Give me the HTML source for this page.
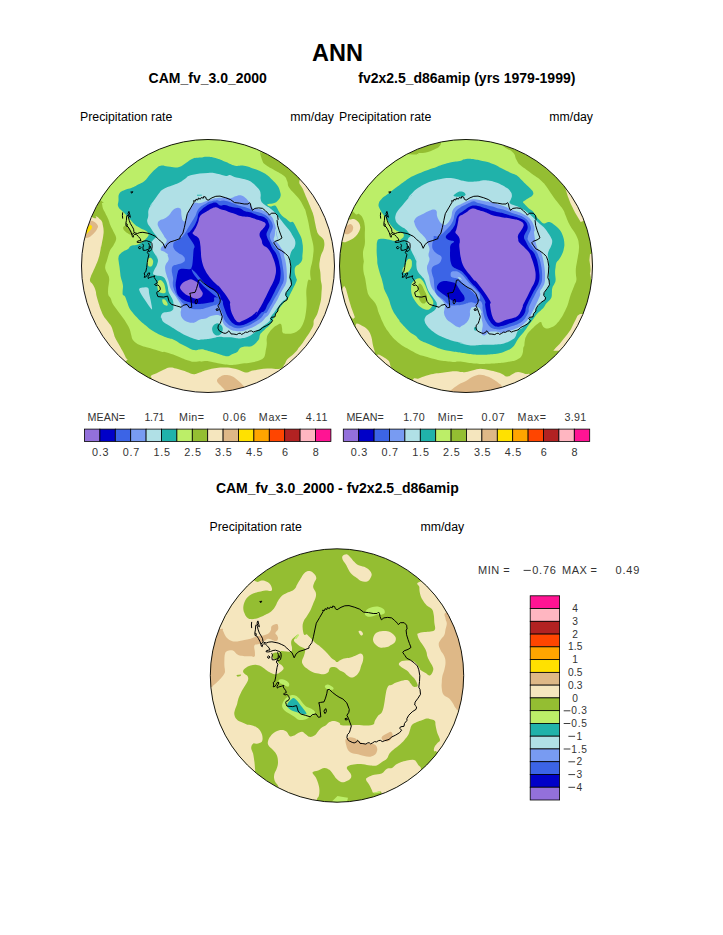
<!DOCTYPE html>
<html><head><meta charset="utf-8"><title>ANN</title>
<style>
html,body{margin:0;padding:0;background:#fff;}
body{width:723px;height:935px;overflow:hidden;font-family:"Liberation Sans",sans-serif;}
svg{display:block;}
text{font-family:"Liberation Sans",sans-serif;}
.h{fill:#000;}
.st{fill:#333;}
</style></head><body>
<svg width="723" height="935" viewBox="0 0 723 935">
<rect width="723" height="935" fill="#fff"/>
<text x="337.5" y="60.5" font-size="23.5" font-weight="bold" text-anchor="middle" class="h">ANN</text>
<text x="207.7" y="83" font-size="14" font-weight="bold" text-anchor="middle" class="h">CAM_fv_3.0_2000</text>
<text x="466.8" y="83" font-size="14" font-weight="bold" text-anchor="middle" class="h">fv2x2.5_d86amip (yrs 1979-1999)</text>
<text x="337.3" y="492.5" font-size="14" font-weight="bold" text-anchor="middle" class="h">CAM_fv_3.0_2000 - fv2x2.5_d86amip</text>
<text x="80" y="121.2" font-size="12.3" class="h">Precipitation rate</text>
<text x="334" y="121.2" font-size="12.3" text-anchor="end" class="h">mm/day</text>
<text x="339" y="121.2" font-size="12.3" class="h">Precipitation rate</text>
<text x="593" y="121.2" font-size="12.3" text-anchor="end" class="h">mm/day</text>
<text x="209.5" y="531.2" font-size="12.3" class="h">Precipitation rate</text>
<text x="464.2" y="531.2" font-size="12.3" text-anchor="end" class="h">mm/day</text>
<clipPath id="c1"><circle cx="208" cy="266" r="126.5"/></clipPath><g clip-path="url(#c1)"><circle cx="208" cy="266" r="127.5" fill="#F5E6BE"/><path d="M217.0,380.2 C217.4,378.5 220.9,376.0 223.3,375.3 C225.7,374.6 229.0,375.2 231.4,376.0 C233.8,376.9 235.7,378.6 237.7,380.2 C239.6,381.8 241.6,383.6 243.1,385.6 C244.6,387.5 249.5,389.6 246.7,391.9 C243.8,394.1 229.6,399.2 226.0,399.1 C222.4,398.9 226.0,393.2 225.1,391.0 C224.2,388.7 221.9,387.4 220.6,385.6 C219.2,383.8 216.5,381.9 217.0,380.2Z" fill="#DEB887" /><path d="M88.7,222.8 C89.9,221.7 90.9,220.9 91.8,220.7 C92.8,220.6 93.7,221.6 94.6,222.1 C95.5,222.7 96.4,223.5 97.0,224.2 C97.6,225.0 98.1,225.7 98.1,226.6 C98.0,227.5 97.2,228.8 96.7,229.7 C96.1,230.7 95.4,231.6 94.6,232.5 C93.8,233.4 92.8,234.5 91.8,235.3 C90.9,236.1 90.0,236.9 89.1,237.3 C88.1,237.8 87.0,238.0 86.3,238.0 C85.6,238.0 85.6,237.9 84.9,237.3 C84.2,236.8 82.1,236.2 82.1,234.6 C82.1,233.0 83.8,229.6 84.9,227.7 C86.0,225.7 87.6,224.0 88.7,222.8Z" fill="#DEB887" /><path d="M88.4,225.6 L90.8,224.9 L92.2,226.6 L91.5,229.0 L89.4,231.1 L87.3,233.2 L86.0,233.9 L84.2,232.5 L86.3,227.7Z" fill="#FFE100" /><path d="M299.7,180.1 C298.1,184.7 301.4,185.1 303.3,189.9 C305.2,194.8 305.8,196.1 307.8,200.7 C309.7,205.4 310.3,206.5 311.6,210.0 C313.0,213.5 312.8,212.9 313.6,215.8 C314.4,218.7 314.3,219.4 315.0,222.6 C315.7,225.7 315.7,226.7 316.5,229.4 C317.3,232.1 317.1,232.2 318.4,234.2 C319.8,236.2 320.9,236.3 322.3,238.1 C323.6,239.9 323.9,239.5 324.2,242.0 C324.6,244.4 324.4,245.8 323.7,248.7 C323.1,251.7 322.2,251.8 321.3,254.5 C320.4,257.2 320.3,257.6 319.9,260.3 C319.4,263.1 319.3,263.4 319.4,266.2 C319.5,268.9 320.0,268.7 320.3,272.0 C320.7,275.2 320.5,276.8 320.8,280.0 C321.2,283.2 321.6,282.9 321.8,285.8 C321.9,288.7 321.7,289.4 321.5,292.6 C321.3,295.7 321.4,296.2 321.0,299.4 C320.5,302.5 320.3,303.0 319.5,306.1 C318.8,309.3 318.6,310.2 317.6,312.9 C316.6,315.6 316.1,316.0 315.2,317.8 C314.3,319.6 314.2,318.9 313.7,320.7 C313.3,322.5 314.0,323.0 313.3,325.5 C312.5,328.0 311.9,328.6 310.3,331.3 C308.8,334.0 308.3,334.4 306.5,337.1 C304.7,339.8 304.4,340.4 302.6,342.9 C300.8,345.4 300.0,346.1 298.7,347.8 C297.5,349.4 298.7,348.3 297.3,350.0 C295.8,351.7 294.9,352.8 292.5,355.0 C290.1,357.2 289.0,357.3 287.1,359.5 C285.2,361.7 286.1,362.4 284.4,364.5 C282.7,366.7 283.9,367.9 279.9,368.8 C275.9,369.8 273.6,368.1 267.3,368.5 C261.0,368.9 258.0,369.7 253.0,370.6 C247.9,371.6 250.0,372.9 245.8,372.4 C241.6,372.0 240.4,370.0 235.0,368.8 C229.5,367.7 228.7,367.4 222.4,367.6 C216.1,367.8 213.3,368.6 208.0,369.7 C202.7,370.9 202.8,371.6 199.5,372.6 C196.2,373.7 196.5,374.3 193.9,374.3 C191.4,374.3 191.0,373.5 188.4,372.6 C185.8,371.7 185.8,371.5 182.9,370.5 C180.0,369.6 179.0,369.2 176.0,368.5 C172.9,367.8 172.6,367.2 169.7,367.5 C166.8,367.8 166.6,368.5 163.5,369.8 C160.4,371.2 159.5,371.9 156.6,373.3 C153.7,374.7 152.3,374.5 151.1,375.8 C149.8,377.1 152.2,376.4 151.3,378.9 C150.4,381.4 154.9,389.2 147.2,386.5 C139.4,383.8 122.9,373.2 118.1,367.1 C113.3,361.1 124.9,362.9 126.7,360.6 C128.5,358.4 126.8,359.8 125.7,357.5 C124.7,355.1 123.9,353.6 122.3,350.5 C120.6,347.5 120.4,347.2 118.8,344.3 C117.2,341.4 116.6,341.0 115.3,338.1 C114.1,335.2 114.2,334.6 113.3,331.9 C112.3,329.1 112.5,328.8 111.2,326.3 C109.9,323.9 109.5,323.9 107.7,321.5 C106.0,319.1 105.2,318.7 103.6,316.0 C102.0,313.2 102.0,312.6 100.8,309.7 C99.7,306.8 99.7,306.6 98.7,303.5 C97.8,300.4 97.5,299.8 96.7,296.6 C95.9,293.4 96.3,292.6 95.3,289.7 C94.3,286.8 93.7,286.2 92.5,284.1 C91.3,282.1 90.5,282.7 90.1,281.0 C89.7,279.2 90.1,279.1 90.8,276.8 C91.5,274.6 92.0,274.0 93.2,271.3 C94.4,268.5 94.8,268.0 96.0,265.1 C97.2,262.2 97.4,261.9 98.4,258.8 C99.4,255.8 99.5,255.1 100.1,251.9 C100.8,248.7 100.9,246.1 101.2,245.0 C101.4,243.9 100.9,247.8 101.2,247.0 C101.4,246.2 101.7,244.1 102.2,241.5 C102.7,238.9 102.9,238.5 103.2,236.0 C103.6,233.4 103.7,232.8 103.6,230.4 C103.5,228.0 103.3,227.7 102.9,225.6 C102.5,223.5 102.7,223.1 101.9,221.4 C101.1,219.8 100.8,219.9 99.4,218.7 C98.1,217.5 97.8,216.7 96.0,216.3 C94.2,215.8 100.2,220.7 91.8,216.9 C83.4,213.2 67.4,227.3 60.0,200.0 C52.6,172.7 -10.0,123.3 60.0,100.0 C130.0,76.7 295.8,88.3 360.0,100.0 C424.2,111.7 346.7,133.7 335.0,150.0 C323.3,166.3 318.2,163.0 310.0,170.0 C301.8,177.0 301.3,175.4 299.7,180.1Z" fill="#94BE32" /><path d="M260.1,151.3 C260.1,153.9 260.7,156.2 261.9,159.4 C263.2,162.5 262.6,162.3 265.5,164.8 C268.5,167.3 270.3,167.6 274.5,170.2 C278.7,172.7 280.6,173.0 283.5,175.6 C286.5,178.1 285.9,178.2 287.1,181.0 C288.4,183.7 287.2,184.3 288.9,187.2 C290.6,190.2 291.8,190.6 294.3,193.5 C296.8,196.5 297.4,196.5 299.7,199.8 C302.0,203.2 302.9,205.5 304.2,207.9 C305.5,210.3 304.7,208.2 305.3,210.0 C305.9,211.8 306.1,213.1 306.8,215.8 C307.5,218.5 307.6,218.5 308.2,221.6 C308.9,224.8 309.0,226.0 309.7,229.4 C310.4,232.8 310.5,233.2 311.1,236.1 C311.8,239.1 312.0,239.0 312.6,242.0 C313.2,244.9 313.5,245.6 313.6,248.7 C313.7,251.9 313.4,252.3 313.1,255.5 C312.7,258.7 312.7,259.3 312.1,262.3 C311.6,265.2 311.1,265.4 310.7,268.1 C310.2,270.8 310.2,271.1 310.2,273.9 C310.2,276.7 311.1,278.6 310.7,280.0 C310.3,281.4 309.3,278.6 308.4,280.0 C307.5,281.4 307.5,283.1 307.0,285.8 C306.5,288.5 306.4,288.9 306.3,291.6 C306.2,294.3 306.4,294.7 306.5,297.4 C306.6,300.1 306.7,300.5 306.7,303.2 C306.6,305.9 306.6,306.3 306.3,309.0 C306.0,311.8 306.0,312.1 305.5,314.9 C305.0,317.6 305.0,318.0 304.1,320.7 C303.1,323.4 303.1,324.1 301.6,326.5 C300.2,328.8 299.8,329.2 297.8,330.8 C295.7,332.4 295.4,332.6 292.9,333.3 C290.4,333.9 289.5,333.8 287.1,333.7 C284.7,333.6 283.9,334.0 282.8,332.8 C281.6,331.5 282.5,330.4 282.1,328.4 C281.6,326.4 281.9,324.8 280.8,324.1 C279.7,323.3 279.3,324.0 277.4,325.0 C275.5,326.0 274.6,326.5 272.6,328.4 C270.6,330.3 270.1,331.0 268.7,333.3 C267.4,335.5 267.2,335.6 266.8,338.1 C266.3,340.6 267.0,341.1 266.8,343.9 C266.6,346.7 266.3,347.4 265.8,350.0 C265.4,352.6 265.5,353.2 264.9,355.2 C264.2,357.2 264.3,357.3 262.9,358.6 C261.6,359.8 261.1,359.7 259.1,360.5 C257.0,361.3 256.7,361.4 254.2,362.0 C251.7,362.5 251.1,362.6 248.4,362.9 C245.7,363.3 245.3,363.1 242.6,363.4 C239.9,363.8 239.5,364.0 236.8,364.4 C234.1,364.7 233.7,364.9 231.0,364.9 C228.3,364.9 227.9,364.7 225.2,364.4 C222.5,364.0 221.8,363.9 219.4,363.4 C216.9,363.0 216.8,362.9 214.5,362.4 C212.3,362.0 211.9,361.8 209.7,361.5 C207.4,361.1 207.1,360.9 204.8,361.0 C202.6,361.1 200.9,362.0 200.0,362.0 C199.1,361.9 202.3,360.9 200.9,360.9 C199.4,360.8 196.8,361.9 193.9,361.8 C191.0,361.8 191.3,361.5 188.4,360.6 C185.5,359.7 185.0,359.5 181.5,358.1 C177.9,356.7 177.1,356.1 173.2,354.6 C169.3,353.2 167.4,352.5 164.9,351.9 C162.4,351.2 164.6,352.4 162.4,351.9 C160.2,351.5 158.7,350.8 155.5,349.8 C152.2,348.9 151.8,348.7 148.5,347.8 C145.3,346.8 144.5,346.8 141.6,345.7 C138.7,344.6 138.2,344.4 136.1,342.9 C134.0,341.5 133.8,341.2 132.6,339.5 C131.5,337.7 131.9,337.6 131.3,335.3 C130.6,333.1 130.8,332.4 129.9,329.8 C128.9,327.2 128.6,326.8 127.1,324.3 C125.6,321.7 125.4,321.3 123.6,318.7 C121.9,316.1 121.3,315.6 119.5,313.2 C117.7,310.8 117.6,310.6 116.0,308.4 C114.4,306.1 113.9,305.9 112.6,303.5 C111.3,301.1 111.5,300.0 110.5,298.0 C109.5,296.0 109.0,297.0 108.4,295.0 C107.9,293.0 108.0,291.9 108.1,289.3 C108.2,286.6 108.5,286.3 108.8,283.7 C109.0,281.1 109.4,280.5 109.1,278.2 C108.9,275.9 108.5,276.0 107.7,274.0 C106.9,272.1 106.2,271.8 105.7,269.9 C105.1,268.0 105.0,268.0 105.3,265.7 C105.6,263.5 106.2,263.0 107.0,260.2 C107.9,257.5 107.9,256.6 108.8,254.0 C109.7,251.4 109.6,251.2 110.8,249.1 C112.1,247.1 113.6,245.3 114.0,245.0 C114.3,244.7 112.2,247.9 112.2,247.7 C112.2,247.5 113.2,245.9 114.0,244.3 C114.8,242.6 115.2,242.4 115.7,240.8 C116.2,239.2 116.3,239.0 116.0,237.3 C115.8,235.7 115.5,235.7 114.7,233.9 C113.8,232.1 113.5,231.7 112.6,229.7 C111.6,227.8 111.4,227.7 110.5,225.6 C109.6,223.5 109.6,222.8 108.8,220.7 C108.0,218.6 107.9,218.5 107.0,216.6 C106.2,214.7 105.9,214.4 105.0,212.4 C104.0,210.5 103.6,210.4 102.9,208.3 C102.2,206.2 102.5,205.4 101.9,203.5 C101.2,201.5 107.6,205.5 100.1,200.0 C92.7,194.5 77.0,203.3 70.0,180.0 C63.0,156.7 25.2,118.7 70.0,100.0 C114.8,81.3 217.2,88.8 262.0,100.0 C306.8,111.2 262.4,136.0 262.0,148.0 C261.6,160.0 260.2,148.6 260.1,151.3Z" fill="#BCEE68" /><path d="M123.1,227.4 C123.2,226.6 124.4,225.8 125.5,226.0 C126.5,226.1 128.2,227.4 129.4,228.4 C130.5,229.5 131.9,231.2 132.3,232.3 C132.7,233.3 132.4,234.5 131.8,234.7 C131.1,234.9 129.6,234.4 128.4,233.7 C127.2,233.1 125.4,231.9 124.5,230.8 C123.6,229.8 122.9,228.2 123.1,227.4Z" fill="#94BE32" /><path d="M208.0,156.7 C211.9,156.9 212.8,157.2 217.0,158.5 C221.2,159.7 221.8,160.4 226.0,162.1 C230.2,163.8 230.8,164.8 235.0,165.7 C239.2,166.5 239.8,165.0 244.0,165.7 C248.2,166.3 248.8,166.9 253.0,168.4 C257.1,169.8 258.7,170.4 261.9,172.0 C265.2,173.5 264.8,173.4 267.0,175.0 C269.1,176.6 269.4,177.1 271.3,178.9 C273.2,180.7 273.6,180.9 275.2,182.7 C276.8,184.6 277.0,184.6 278.1,186.6 C279.2,188.7 279.5,189.2 280.0,191.5 C280.6,193.7 281.0,194.3 280.5,196.3 C280.1,198.3 279.6,198.6 278.1,200.2 C276.6,201.8 276.5,202.2 274.2,203.1 C272.0,204.0 270.0,203.6 268.4,204.0 C266.8,204.5 267.0,204.4 267.4,205.0 C267.9,205.6 268.7,206.4 270.3,206.5 C272.0,206.6 273.1,205.2 274.7,205.5 C276.3,205.8 276.1,206.4 277.1,207.9 C278.1,209.4 277.9,210.0 279.1,211.8 C280.2,213.6 280.4,214.1 282.0,215.7 C283.5,217.2 284.0,217.1 285.8,218.6 C287.7,220.0 288.4,221.1 290.0,222.0 C291.6,222.8 291.5,221.3 292.8,222.1 C294.0,222.9 293.9,223.3 295.2,225.5 C296.4,227.6 296.7,228.6 298.1,231.3 C299.4,234.0 300.0,234.4 301.0,237.1 C302.0,239.8 302.0,240.2 302.4,242.9 C302.9,245.6 302.9,245.8 302.9,248.7 C302.9,251.7 302.7,252.8 302.4,255.5 C302.2,258.2 302.7,258.3 302.0,260.3 C301.2,262.4 300.5,262.8 299.0,264.2 C297.6,265.7 296.7,264.8 295.7,266.6 C294.6,268.4 294.6,269.4 294.7,272.0 C294.8,274.6 295.7,275.9 296.1,277.8 C296.6,279.6 297.0,278.6 296.8,280.0 C296.6,281.4 296.1,282.1 295.3,283.9 C294.5,285.7 294.4,285.7 293.4,287.7 C292.4,289.8 292.0,290.6 291.0,292.6 C290.0,294.6 289.9,294.9 289.0,296.5 C288.1,298.0 288.2,298.0 287.1,299.4 C286.0,300.7 285.6,300.8 284.2,302.3 C282.8,303.7 282.5,304.1 281.3,305.7 C280.1,307.2 280.0,307.4 278.9,309.0 C277.8,310.7 277.5,311.2 276.5,312.9 C275.4,314.6 275.3,314.8 274.5,316.3 C273.7,317.8 273.6,318.0 273.1,319.2 C272.5,320.5 273.0,320.2 272.1,321.6 C271.2,323.1 270.9,323.7 269.2,325.5 C267.5,327.3 266.5,327.8 264.8,329.4 C263.1,331.0 263.1,331.0 261.9,332.3 C260.8,333.5 260.7,333.2 260.0,334.7 C259.3,336.2 259.7,337.1 259.1,338.7 C258.4,340.3 258.3,340.3 257.1,341.6 C256.0,343.0 255.8,343.4 254.2,344.5 C252.6,345.7 252.2,346.0 250.3,346.5 C248.5,346.9 248.3,346.4 246.5,346.5 C244.7,346.6 244.2,346.5 242.6,347.0 C241.0,347.4 241.1,347.2 239.7,348.4 C238.3,349.7 238.6,350.9 236.8,352.3 C235.0,353.6 234.0,353.3 232.0,354.2 C229.9,355.1 229.9,355.8 228.1,356.2 C226.3,356.5 226.2,356.1 224.2,355.7 C222.2,355.2 221.6,354.9 219.4,354.2 C217.1,353.5 216.8,353.4 214.5,352.8 C212.3,352.1 211.9,352.0 209.7,351.3 C207.4,350.6 207.1,350.3 204.8,349.9 C202.6,349.4 202.5,349.3 200.0,349.4 C197.5,349.4 196.6,350.5 193.9,350.1 C191.2,349.7 191.3,349.1 188.4,347.7 C185.5,346.4 184.7,346.0 181.5,344.3 C178.3,342.5 178.0,341.6 174.8,340.2 C171.6,338.7 171.1,339.2 167.9,338.1 C164.7,337.0 163.9,336.6 161.0,335.3 C158.1,334.0 158.0,334.0 155.5,332.6 C152.9,331.1 152.2,330.7 149.9,329.1 C147.7,327.5 147.9,327.4 145.8,325.6 C143.7,323.9 143.0,323.4 140.9,321.5 C138.8,319.6 138.7,319.4 136.8,317.3 C134.8,315.2 134.4,314.8 132.6,312.5 C130.9,310.2 130.5,310.1 129.2,307.7 C127.9,305.2 128.1,304.7 127.1,302.1 C126.1,299.5 126.0,298.3 125.0,296.6 C124.1,294.9 123.5,296.1 123.0,295.0 C122.4,293.9 122.6,294.0 122.6,292.0 C122.6,290.0 123.0,288.8 123.0,286.5 C122.9,284.2 122.7,284.4 122.3,282.3 C121.8,280.2 121.4,279.8 120.9,277.5 C120.4,275.2 120.5,275.1 120.2,272.7 C119.9,270.2 119.8,269.6 119.5,267.1 C119.2,264.7 119.0,264.5 118.8,262.3 C118.6,260.0 118.1,259.4 118.5,257.4 C118.8,255.5 119.0,255.4 120.2,254.0 C121.4,252.5 121.8,252.4 123.6,251.2 C125.5,250.1 126.2,250.4 128.0,249.1 C129.8,247.9 128.9,246.9 131.3,245.8 C133.7,244.7 135.4,245.4 138.1,244.4 C140.8,243.4 140.7,243.3 142.9,241.5 C145.2,239.7 146.5,238.4 147.8,236.6 C149.0,234.8 148.7,235.1 148.2,233.7 C147.8,232.4 147.7,232.2 145.8,230.8 C143.9,229.5 142.7,229.5 140.0,227.9 C137.3,226.3 136.9,226.5 134.2,224.0 C131.5,221.6 131.1,220.2 128.4,217.3 C125.7,214.3 125.0,213.9 122.6,211.5 C120.2,209.0 119.2,209.1 118.2,206.6 C117.3,204.1 118.2,203.8 118.5,200.7 C118.7,197.7 117.9,196.1 119.4,193.5 C120.8,191.0 121.8,191.3 124.7,189.9 C127.7,188.6 128.8,189.0 131.9,187.8 C135.1,186.5 135.3,186.1 138.2,184.5 C141.2,183.0 141.8,183.3 144.5,181.0 C147.3,178.6 147.4,177.4 149.9,174.7 C152.4,171.9 152.8,171.4 155.3,169.3 C157.8,167.2 157.8,166.3 160.7,165.7 C163.6,165.0 164.5,166.1 167.9,166.6 C171.3,167.0 172.2,167.5 175.1,167.5 C178.0,167.5 178.0,167.6 180.5,166.6 C183.0,165.5 182.9,164.9 185.9,163.0 C188.8,161.1 189.7,159.7 193.1,158.5 C196.4,157.2 196.8,158.0 200.3,157.6 C203.8,157.2 204.1,156.5 208.0,156.7Z" fill="#20B2AA" /><path d="M150.0,206.0 C149.2,206.3 152.6,202.4 154.8,199.2 C157.1,196.0 157.4,194.9 159.7,192.4 C161.9,189.9 161.8,190.1 164.5,188.6 C167.2,187.0 167.9,187.0 171.3,185.7 C174.7,184.3 175.9,184.3 179.0,182.7 C182.2,181.2 181.9,180.7 184.9,178.9 C187.8,177.1 186.2,176.4 191.6,175.0 C197.0,173.6 202.1,173.1 208.0,172.9 C213.9,172.6 212.8,173.0 217.0,173.8 C221.2,174.5 223.0,175.6 226.0,175.9 C228.9,176.2 227.7,174.8 229.7,175.0 C231.7,175.2 231.8,176.1 234.5,176.9 C237.2,177.7 238.1,177.6 241.3,178.4 C244.5,179.2 245.4,179.2 248.1,180.3 C250.8,181.5 250.9,181.6 252.9,183.2 C255.0,184.8 255.2,185.4 256.8,187.1 C258.4,188.8 258.8,188.8 259.7,190.5 C260.6,192.2 260.4,192.3 260.7,194.4 C260.9,196.4 260.2,197.2 260.7,199.2 C261.1,201.2 261.2,201.5 262.6,203.1 C264.0,204.7 264.7,204.7 266.5,206.0 C268.3,207.2 268.3,206.8 270.3,208.4 C272.4,210.0 273.2,210.6 275.2,212.8 C277.2,214.9 277.3,215.3 279.1,217.6 C280.9,219.9 281.1,220.2 282.9,222.4 C284.7,224.7 285.2,225.2 286.8,227.3 C288.5,229.3 288.6,229.1 290.0,231.2 C291.4,233.2 291.5,233.8 292.8,236.1 C294.0,238.4 294.7,238.5 295.2,241.0 C295.6,243.5 295.5,244.5 294.7,246.8 C293.9,249.1 292.8,248.9 291.8,250.7 C290.8,252.5 290.8,252.7 290.3,254.5 C289.9,256.3 289.8,256.2 289.8,258.4 C289.9,260.7 290.4,261.5 290.6,264.2 C290.8,266.9 290.8,267.3 290.6,270.0 C290.4,272.7 290.0,273.5 289.8,275.8 C289.7,278.2 289.5,278.1 289.8,280.0 C290.2,281.9 291.4,281.8 291.2,283.9 C291.0,285.9 290.2,286.7 289.0,288.7 C287.9,290.7 286.9,291.0 286.1,292.6 C285.4,294.2 285.7,294.1 285.7,295.5 C285.7,296.8 286.7,297.2 286.1,298.4 C285.6,299.6 284.6,299.5 283.2,300.8 C281.9,302.2 281.7,302.5 280.3,304.2 C279.0,305.9 278.8,306.3 277.4,308.1 C276.1,309.9 275.9,310.1 274.5,312.0 C273.2,313.8 272.6,314.4 271.6,315.8 C270.6,317.3 270.6,317.1 270.2,318.2 C269.7,319.4 270.5,319.4 269.7,320.7 C268.9,321.9 268.4,322.2 266.8,323.6 C265.2,324.9 264.5,325.3 262.9,326.5 C261.3,327.6 261.8,327.1 260.0,328.4 C258.2,329.7 257.2,330.4 255.2,332.0 C253.2,333.5 253.3,333.6 251.3,334.9 C249.3,336.1 248.7,336.5 246.5,337.3 C244.2,338.1 243.9,338.0 241.6,338.2 C239.4,338.5 239.3,338.5 236.8,338.2 C234.3,338.0 233.7,337.5 231.0,337.3 C228.3,337.0 227.9,337.4 225.2,337.3 C222.5,337.2 221.8,336.7 219.4,336.8 C216.9,336.9 216.8,337.3 214.5,337.8 C212.3,338.2 211.9,338.4 209.7,338.7 C207.4,339.1 207.1,339.0 204.8,339.2 C202.6,339.4 201.3,339.5 200.0,339.7 C198.7,339.9 200.9,340.3 199.5,340.1 C198.1,339.9 196.8,339.7 193.9,338.7 C191.0,337.8 189.9,337.3 187.0,336.0 C184.1,334.7 184.4,334.8 181.5,333.2 C178.6,331.6 177.5,330.8 174.6,329.0 C171.7,327.3 171.6,327.2 169.0,325.6 C166.5,324.0 165.3,323.9 163.5,322.1 C161.7,320.4 162.1,319.2 161.4,318.0 C160.8,316.8 160.5,318.1 160.8,317.0 C161.1,315.8 161.2,314.2 162.8,313.1 C164.3,312.0 165.3,312.8 167.6,312.1 C169.9,311.4 171.1,311.5 172.4,310.2 C173.8,308.8 173.3,308.6 173.4,306.3 C173.5,304.1 173.6,303.0 172.9,300.5 C172.2,298.0 171.5,297.7 170.5,295.7 C169.5,293.6 169.2,294.1 168.6,291.8 C167.9,289.5 168.3,288.7 167.6,286.0 C166.9,283.3 166.8,282.3 165.7,280.2 C164.5,278.0 164.6,277.8 162.8,276.8 C161.0,275.8 160.0,276.3 157.9,275.8 C155.9,275.4 155.2,275.4 154.0,274.8 C152.9,274.3 153.0,274.6 153.1,273.4 C153.2,272.2 153.6,271.6 154.5,269.5 C155.4,267.5 156.2,266.9 157.0,264.7 C157.7,262.4 158.1,262.1 157.9,259.8 C157.7,257.6 156.1,255.2 156.0,255.0 C155.9,254.8 157.6,258.9 157.4,258.9 C157.3,258.9 156.5,256.8 155.5,255.0 C154.5,253.2 154.0,253.0 153.1,251.2 C152.2,249.3 152.1,249.1 151.6,247.3 C151.2,245.5 150.7,245.2 151.1,243.4 C151.6,241.6 152.3,241.1 153.6,239.5 C154.8,238.0 156.2,238.0 156.5,236.6 C156.7,235.3 155.9,235.8 154.5,233.7 C153.2,231.7 152.4,230.6 150.7,227.9 C149.0,225.2 147.8,224.8 147.3,222.1 C146.7,219.4 147.9,219.2 148.2,216.3 C148.6,213.4 147.7,212.5 148.7,209.5 C149.7,206.6 150.3,206.4 152.6,203.7 C154.9,201.0 159.0,197.4 158.4,197.9 C157.8,198.4 150.8,205.7 150.0,206.0Z" fill="#B0E0E6" /><path d="M139.5,288.4 C140.2,287.8 142.4,287.5 143.9,287.4 C145.3,287.4 147.3,286.9 148.2,287.9 C149.1,289.0 148.8,291.6 149.2,293.7 C149.6,295.8 150.2,297.9 150.7,300.5 C151.1,303.1 152.4,308.3 152.1,309.2 C151.9,310.2 150.3,307.8 149.2,306.3 C148.1,304.9 146.6,302.4 145.3,300.5 C144.0,298.6 142.4,296.3 141.5,294.7 C140.5,293.1 139.8,291.9 139.5,290.8 C139.2,289.8 138.8,289.0 139.5,288.4Z" fill="#B0E0E6" /><path d="M217.4,323.2 C218.7,323.2 220.4,324.2 221.3,325.2 C222.2,326.1 222.8,327.7 222.8,329.0 C222.8,330.4 222.2,332.3 221.3,333.4 C220.4,334.5 218.7,335.6 217.4,335.6 C216.1,335.6 214.4,334.5 213.6,333.4 C212.7,332.3 212.1,330.4 212.1,329.0 C212.1,327.7 212.7,326.1 213.6,325.2 C214.4,324.2 216.1,323.2 217.4,323.2Z" fill="#20B2AA" /><path d="M148.2,258.9 C148.9,258.1 150.3,257.6 151.1,257.9 C151.9,258.2 152.8,259.7 153.1,260.8 C153.3,261.9 153.0,263.7 152.6,264.7 C152.2,265.7 151.4,266.5 150.7,266.6 C149.9,266.8 148.8,266.4 148.2,265.7 C147.6,264.9 147.1,263.4 147.1,262.3 C147.1,261.1 147.6,259.6 148.2,258.9Z" fill="#BCEE68" /><path d="M157.9,281.6 C158.5,280.5 159.9,279.9 160.8,280.2 C161.8,280.4 163.0,281.8 163.7,283.1 C164.5,284.4 164.9,286.4 165.2,287.9 C165.5,289.5 166.1,291.4 165.7,292.3 C165.3,293.2 163.9,293.3 162.8,293.2 C161.6,293.2 159.8,292.8 158.9,291.8 C158.0,290.7 157.6,288.6 157.4,287.0 C157.3,285.3 157.4,282.8 157.9,281.6Z" fill="#BCEE68" /><path d="M162.3,299.5 C162.6,299.0 163.9,299.1 164.7,299.5 C165.5,300.0 166.6,301.5 167.1,302.4 C167.6,303.4 167.9,304.9 167.6,305.3 C167.3,305.8 166.0,305.7 165.2,305.3 C164.4,304.9 163.2,303.9 162.8,302.9 C162.3,302.0 162.0,300.1 162.3,299.5Z" fill="#BCEE68" /><path d="M197.0,194.8 L201.8,194.7 L202.0,195.6 L197.2,195.8Z" fill="#20B2AA" /><path d="M157.7,223.4 C158.0,221.8 158.1,221.6 159.7,220.5 C161.3,219.4 162.3,219.9 164.5,218.6 C166.8,217.2 167.6,216.5 169.4,214.7 C171.2,212.9 170.9,212.3 172.3,210.8 C173.6,209.4 173.6,209.1 175.2,208.4 C176.8,207.7 177.7,207.6 179.0,207.9 C180.4,208.3 180.4,208.0 181.0,209.9 C181.5,211.7 181.0,213.2 181.5,215.7 C181.9,218.1 182.0,219.4 182.9,220.5 C183.8,221.6 184.3,222.1 185.3,220.5 C186.4,218.9 186.0,216.7 187.3,213.7 C188.5,210.8 189.0,210.4 190.7,207.9 C192.4,205.4 192.3,204.2 194.5,203.1 C196.8,201.9 197.6,203.6 200.3,203.1 C203.1,202.6 203.4,201.9 206.2,200.9 C208.9,200.0 209.3,199.9 212.0,199.2 C214.7,198.5 214.5,198.4 217.8,198.0 C221.0,197.6 222.8,197.4 225.8,197.5 C228.8,197.5 228.4,198.5 230.7,198.2 C232.9,198.0 233.1,197.0 235.5,196.3 C237.9,195.6 238.6,195.0 240.8,195.3 C243.1,195.7 243.5,196.5 245.2,197.8 C246.9,199.0 246.9,199.4 248.1,200.7 C249.2,201.9 249.1,201.6 250.0,203.1 C250.9,204.5 251.0,205.6 252.0,207.0 C252.9,208.3 252.3,208.4 253.9,208.9 C255.5,209.3 256.5,208.4 258.7,208.9 C261.0,209.3 261.3,209.7 263.6,210.8 C265.8,212.0 266.4,212.1 268.4,213.7 C270.4,215.3 270.9,215.6 272.3,217.6 C273.6,219.6 273.4,220.2 274.2,222.4 C275.0,224.7 275.2,224.8 275.7,227.3 C276.1,229.8 275.8,230.6 276.2,233.1 C276.5,235.6 276.7,235.9 277.1,237.9 C277.6,240.0 278.4,243.8 278.1,241.8 C277.8,239.8 276.6,230.9 275.8,229.4 C275.1,227.8 275.3,232.7 274.8,235.2 C274.4,237.7 273.2,238.2 273.9,240.0 C274.6,241.8 275.9,240.9 277.7,242.9 C279.6,245.0 280.0,246.5 281.6,248.7 C283.2,251.0 284.0,251.2 284.5,252.6 C285.1,254.0 283.7,252.8 283.9,254.7 C284.1,256.5 284.8,257.8 285.4,260.5 C285.9,263.2 286.0,263.4 286.3,266.3 C286.7,269.2 286.7,270.1 286.8,273.1 C286.9,276.0 287.0,276.4 286.8,278.9 C286.6,281.4 286.5,281.7 285.8,283.7 C285.2,285.8 284.9,285.8 283.9,287.6 C282.9,289.4 282.5,289.7 281.5,291.5 C280.5,293.3 280.6,293.3 279.5,295.3 C278.5,297.4 278.4,297.9 277.1,300.2 C275.9,302.4 275.6,302.8 274.2,305.0 C272.9,307.3 272.7,307.5 271.3,309.9 C270.0,312.2 269.7,313.3 268.4,315.0 C267.1,316.7 267.1,316.0 265.8,317.3 C264.5,318.6 264.3,319.3 262.9,320.7 C261.5,322.0 261.1,322.3 260.0,323.1 C258.9,323.9 259.7,323.3 258.1,324.2 C256.5,325.1 255.5,326.0 253.3,327.1 C251.0,328.2 250.7,328.2 248.4,329.0 C246.2,329.9 245.8,330.3 243.6,330.8 C241.3,331.3 241.2,331.2 238.7,331.2 C236.2,331.1 235.4,331.2 232.9,330.5 C230.4,329.8 230.0,329.3 228.1,328.1 C226.2,326.8 225.9,326.6 224.7,325.2 C223.4,323.7 223.4,323.5 222.8,321.8 C222.1,320.1 222.6,319.4 221.8,317.9 C221.0,316.4 221.1,316.1 219.4,315.5 C217.7,314.9 216.8,315.1 214.5,315.3 C212.3,315.5 211.7,315.7 209.7,316.5 C207.6,317.2 208.1,317.7 205.8,318.4 C203.6,319.1 202.5,318.5 200.0,319.4 C197.5,320.3 196.7,321.5 195.0,322.3 C193.3,323.1 194.6,322.9 192.8,322.8 C190.9,322.7 189.4,322.9 187.0,321.8 C184.5,320.7 183.6,320.0 182.1,317.9 C180.7,315.9 180.9,315.1 180.7,313.1 C180.4,311.1 181.2,311.3 181.2,309.2 C181.2,307.2 181.3,306.4 180.7,304.4 C180.0,302.3 179.5,302.5 178.3,300.5 C177.0,298.5 176.7,297.7 175.3,295.7 C174.0,293.6 173.7,293.8 172.4,291.8 C171.2,289.8 170.9,289.4 170.0,287.0 C169.1,284.5 169.4,283.9 168.6,281.1 C167.8,278.4 167.4,278.0 166.6,275.3 C165.8,272.6 165.4,272.0 165.2,269.5 C165.0,267.0 164.9,266.9 165.7,264.7 C166.5,262.4 168.1,262.1 168.6,259.8 C169.0,257.6 167.6,256.2 167.6,255.0 C167.6,253.8 169.1,255.4 168.4,254.7 C167.7,253.9 166.3,253.1 164.5,251.8 C162.7,250.4 160.2,251.2 160.7,248.9 C161.1,246.5 165.6,244.6 166.5,241.8 C167.4,239.0 165.7,239.2 164.5,237.0 C163.4,234.7 163.0,234.4 161.6,232.1 C160.3,229.9 159.6,229.3 158.7,227.3 C157.8,225.2 157.5,225.0 157.7,223.4Z" fill="#789BF2" /><path d="M187.3,229.2 C188.2,227.6 188.5,227.4 189.7,225.3 C190.9,223.3 191.2,222.8 192.6,220.5 C194.0,218.2 194.4,217.9 195.5,215.7 C196.6,213.4 196.3,212.9 197.4,210.8 C198.6,208.8 198.5,208.5 200.3,207.0 C202.2,205.4 202.9,205.3 205.2,204.0 C207.4,202.8 207.5,202.5 210.0,201.6 C212.5,200.8 213.5,200.5 215.8,200.4 C218.2,200.2 217.9,200.9 220.0,200.9 C222.1,201.0 222.6,200.4 224.8,200.7 C227.1,200.9 227.4,201.3 229.7,202.1 C231.9,202.9 232.0,203.1 234.5,204.0 C237.0,204.9 237.6,205.2 240.3,206.0 C243.0,206.8 243.9,206.8 246.1,207.4 C248.4,208.1 248.2,208.0 250.0,208.9 C251.8,209.8 251.9,210.5 253.9,211.3 C255.9,212.1 256.5,211.6 258.7,212.3 C261.0,213.0 261.5,213.2 263.6,214.2 C265.6,215.2 265.9,215.3 267.4,216.6 C269.0,218.0 269.2,218.4 270.3,220.0 C271.5,221.6 271.7,221.7 272.3,223.4 C272.8,225.1 273.0,225.5 272.8,227.3 C272.5,229.1 272.0,229.3 271.3,231.2 C270.6,233.0 270.1,233.2 269.9,235.0 C269.6,236.8 269.8,237.1 270.3,238.9 C270.9,240.7 271.0,240.7 272.3,242.8 C273.5,244.9 274.1,245.8 275.7,247.9 C277.3,250.0 277.8,249.5 279.1,251.8 C280.3,254.0 280.2,254.6 281.0,257.6 C281.8,260.5 281.9,261.2 282.4,264.4 C283.0,267.5 283.1,268.2 283.4,271.1 C283.8,274.1 283.9,274.5 283.9,277.0 C283.9,279.4 284.0,279.8 283.4,281.8 C282.9,283.8 282.5,283.6 281.5,285.7 C280.5,287.7 280.1,288.5 279.1,290.5 C278.0,292.5 278.1,292.6 277.1,294.4 C276.1,296.2 275.8,296.2 274.7,298.3 C273.6,300.3 273.5,300.8 272.3,303.1 C271.0,305.4 270.7,305.7 269.4,307.9 C268.0,310.2 267.6,311.5 266.5,312.8 C265.3,314.0 265.4,312.5 264.4,313.4 C263.3,314.3 263.0,315.5 261.9,316.8 C260.9,318.0 261.6,317.6 260.0,318.7 C258.4,319.9 257.4,320.4 255.2,321.8 C252.9,323.2 252.6,323.6 250.3,324.7 C248.1,325.8 247.8,325.8 245.5,326.6 C243.2,327.4 242.9,327.7 240.7,328.1 C238.4,328.4 238.1,328.5 235.8,328.1 C233.6,327.6 233.0,327.3 231.0,326.1 C228.9,325.0 228.7,324.8 227.1,323.2 C225.5,321.7 225.2,321.4 224.2,319.4 C223.2,317.3 223.5,316.8 222.8,314.5 C222.0,312.3 221.8,311.9 220.8,309.7 C219.8,307.4 219.9,305.9 218.4,304.8 C216.9,303.8 216.6,304.9 214.5,305.3 C212.5,305.8 211.9,306.1 209.7,306.8 C207.4,307.5 207.1,307.7 204.8,308.2 C202.6,308.8 202.9,309.0 200.0,309.2 C197.1,309.4 195.2,309.4 192.6,308.9 C190.0,308.4 190.8,308.1 188.7,307.0 C186.7,305.8 185.7,305.4 183.9,304.1 C182.1,302.7 182.3,302.7 181.0,301.2 C179.6,299.6 179.3,299.1 178.1,297.3 C176.8,295.5 176.7,295.4 175.7,293.4 C174.6,291.4 174.4,290.8 173.7,288.6 C173.0,286.3 172.9,286.0 172.8,283.7 C172.6,281.5 173.3,281.1 173.2,278.9 C173.1,276.6 172.6,276.3 172.3,274.0 C171.9,271.8 171.6,271.1 171.8,269.2 C172.0,267.3 172.0,266.9 173.2,265.8 C174.5,264.7 174.9,265.2 177.1,264.4 C179.4,263.6 181.1,263.6 182.9,262.4 C184.7,261.3 184.9,261.1 184.9,259.5 C184.9,257.9 184.5,257.2 182.9,255.7 C181.3,254.1 180.1,254.3 178.1,252.7 C176.0,251.2 175.3,250.7 174.2,248.9 C173.1,247.1 173.1,246.6 173.2,245.0 C173.3,243.4 173.3,243.1 174.7,241.8 C176.0,240.5 177.1,240.7 179.0,239.4 C181.0,238.0 181.3,237.7 182.9,236.0 C184.5,234.3 184.8,233.7 185.8,232.1 C186.8,230.5 186.4,230.8 187.3,229.2Z" fill="#3C64E6" /><path d="M187.8,235.0 C186.7,232.0 188.6,233.7 189.7,232.1 C190.8,230.5 191.2,230.3 192.6,228.3 C194.0,226.2 194.4,225.7 195.5,223.4 C196.6,221.2 196.8,220.8 197.4,218.6 C198.1,216.3 197.5,215.8 198.4,213.7 C199.3,211.7 199.5,211.7 201.3,209.9 C203.1,208.0 203.9,207.5 206.2,206.0 C208.4,204.5 208.7,204.4 211.0,203.6 C213.3,202.8 213.7,202.1 215.8,202.6 C217.9,203.0 217.9,204.9 220.0,205.5 C222.1,206.1 222.6,204.8 224.8,205.0 C227.1,205.2 227.4,205.9 229.7,206.5 C231.9,207.0 232.0,207.0 234.5,207.4 C237.0,207.9 237.8,207.5 240.3,208.4 C242.8,209.3 242.9,210.4 245.2,211.3 C247.4,212.2 248.0,211.7 250.0,212.3 C252.0,212.8 251.9,212.9 253.9,213.7 C255.9,214.5 256.7,215.0 258.7,215.7 C260.8,216.3 260.8,215.8 262.6,216.6 C264.4,217.4 265.1,217.7 266.5,219.1 C267.8,220.4 267.7,220.7 268.4,222.4 C269.1,224.1 269.5,224.5 269.4,226.3 C269.3,228.1 268.6,228.4 267.9,230.2 C267.2,232.0 266.6,232.3 266.5,234.1 C266.4,235.9 266.8,236.1 267.4,237.9 C268.1,239.7 268.2,239.5 269.4,241.8 C270.5,244.1 270.8,245.4 272.3,247.9 C273.8,250.5 274.3,250.3 275.7,252.7 C277.0,255.2 277.2,255.8 278.1,258.6 C279.0,261.3 279.0,261.7 279.5,264.4 C280.1,267.1 280.3,267.5 280.5,270.2 C280.7,272.9 280.7,273.3 280.5,276.0 C280.3,278.7 280.2,279.5 279.5,281.8 C278.9,284.1 278.6,283.6 277.6,285.7 C276.6,287.7 276.3,288.2 275.2,290.5 C274.1,292.8 273.9,293.1 272.8,295.3 C271.6,297.6 271.6,297.9 270.3,300.2 C269.1,302.4 268.8,302.5 267.4,305.0 C266.1,307.5 266.0,309.0 264.5,310.8 C263.0,312.7 262.9,311.2 261.0,312.9 C259.0,314.7 258.4,316.4 256.2,318.4 C253.9,320.4 253.6,320.1 251.3,321.3 C249.1,322.5 248.7,322.8 246.5,323.7 C244.2,324.6 243.9,324.8 241.6,325.2 C239.4,325.5 238.8,325.6 236.8,325.2 C234.8,324.7 234.6,324.6 232.9,323.2 C231.2,321.9 230.9,321.2 229.5,319.4 C228.2,317.6 228.1,317.5 227.1,315.5 C226.1,313.5 226.1,313.1 225.2,310.7 C224.3,308.2 224.0,307.3 223.2,304.8 C222.4,302.4 223.7,301.8 221.8,300.0 C219.8,298.2 216.7,297.0 214.9,297.3 C213.0,297.6 215.0,299.9 213.9,301.2 C212.8,302.4 212.3,302.0 210.0,302.6 C207.8,303.2 206.9,303.2 204.2,303.6 C201.5,303.9 200.9,304.1 198.4,304.1 C195.9,304.1 195.8,304.0 193.6,303.6 C191.3,303.1 191.0,302.9 188.7,302.1 C186.5,301.3 185.9,301.3 183.9,300.2 C181.9,299.1 181.6,298.9 180.0,297.3 C178.4,295.7 178.0,295.4 177.1,293.4 C176.2,291.4 176.5,290.8 176.1,288.6 C175.8,286.3 175.5,286.2 175.7,283.7 C175.8,281.2 176.2,280.4 176.6,277.9 C177.1,275.4 177.0,275.0 177.6,273.1 C178.2,271.2 177.8,270.7 179.0,269.7 C180.3,268.7 180.4,268.8 182.9,268.7 C185.4,268.6 187.7,269.5 189.7,269.2 C191.7,268.9 191.0,268.8 191.6,267.3 C192.3,265.7 192.3,264.9 192.6,262.4 C192.9,259.9 192.9,259.6 193.1,256.6 C193.3,253.7 193.3,252.6 193.6,249.8 C193.8,247.1 195.4,248.5 194.1,245.0 C192.7,241.5 188.8,238.0 187.8,235.0Z" fill="#0000C8" /><path d="M191.6,269.2 C191.8,268.8 193.4,270.5 194.5,271.6 C195.7,272.8 197.1,274.4 198.4,276.0 C199.7,277.5 200.8,279.2 202.3,280.8 C203.7,282.4 205.5,284.2 207.1,285.7 C208.7,287.1 210.4,288.4 212.0,289.5 C213.6,290.7 215.5,291.5 216.8,292.4 C218.1,293.4 219.5,294.2 220.0,295.3 C220.5,296.5 220.7,299.1 220.0,299.2 C219.3,299.4 217.3,297.4 215.8,296.3 C214.3,295.2 212.6,293.7 211.0,292.4 C209.4,291.2 207.8,290.0 206.2,288.6 C204.5,287.1 202.8,285.3 201.3,283.7 C199.9,282.1 198.7,280.5 197.4,278.9 C196.2,277.3 194.5,275.7 193.6,274.0 C192.6,272.4 191.5,269.6 191.6,269.2Z" fill="#3C64E6" /><path d="M192.6,233.1 C192.6,232.1 193.1,232.3 194.1,230.7 C195.0,229.1 195.5,228.5 196.5,226.3 C197.5,224.2 197.7,223.5 198.4,221.5 C199.1,219.4 198.7,219.2 199.4,217.6 C200.1,216.0 200.0,215.9 201.3,214.7 C202.7,213.5 203.4,213.4 205.2,212.3 C207.0,211.1 207.3,210.9 209.1,209.9 C210.9,208.8 211.1,208.5 212.9,207.9 C214.7,207.4 215.2,207.2 216.8,207.4 C218.5,207.7 218.1,208.2 220.0,208.9 C221.9,209.6 222.6,209.5 224.8,210.3 C227.1,211.1 227.4,211.5 229.7,212.3 C231.9,213.1 232.3,212.9 234.5,213.7 C236.8,214.5 237.1,215.0 239.4,215.7 C241.6,216.3 241.9,216.3 244.2,216.6 C246.5,217.0 246.8,216.7 249.0,217.1 C251.3,217.6 251.6,217.9 253.9,218.6 C256.1,219.2 256.7,219.3 258.7,220.0 C260.8,220.7 261.0,220.7 262.6,221.5 C264.2,222.3 264.9,222.3 265.5,223.4 C266.1,224.5 265.7,225.0 265.0,226.3 C264.3,227.7 263.7,227.9 262.6,229.2 C261.5,230.6 260.9,230.5 260.2,232.1 C259.5,233.7 259.4,234.2 259.7,236.0 C260.0,237.8 260.8,237.8 261.6,239.9 C262.4,242.0 261.7,243.1 263.1,245.0 C264.4,246.9 265.6,246.1 267.4,247.9 C269.2,249.7 269.5,250.3 270.8,252.7 C272.2,255.2 272.2,255.8 273.3,258.6 C274.3,261.3 274.6,261.7 275.2,264.4 C275.8,267.1 276.0,267.5 276.0,270.2 C276.0,272.9 275.8,273.3 275.2,276.0 C274.6,278.7 274.4,279.1 273.3,281.8 C272.1,284.5 271.7,284.9 270.3,287.6 C269.0,290.3 268.8,290.7 267.4,293.4 C266.1,296.1 265.9,296.5 264.5,299.2 C263.2,301.9 263.0,302.5 261.6,305.0 C260.3,307.5 260.1,307.5 258.7,309.9 C257.4,312.2 256.2,314.6 255.8,315.0 C255.4,315.4 257.9,311.5 257.1,311.6 C256.3,311.7 254.5,313.9 252.3,315.5 C250.0,317.1 249.7,317.2 247.4,318.4 C245.2,319.6 244.6,319.9 242.6,320.8 C240.6,321.7 240.3,322.4 238.7,322.3 C237.1,322.2 237.1,321.7 235.8,320.3 C234.6,319.0 234.5,318.7 233.4,316.5 C232.3,314.2 231.8,313.4 231.0,310.7 C230.2,307.9 230.5,307.3 230.0,304.8 C229.6,302.4 231.4,304.0 229.0,300.0 C226.7,296.0 222.9,291.2 220.0,287.6 C217.1,284.0 218.7,286.5 216.8,284.7 C214.9,282.9 214.0,282.1 212.0,279.9 C209.9,277.6 209.7,277.3 208.1,275.0 C206.5,272.8 206.4,272.7 205.2,270.2 C203.9,267.7 203.7,267.3 202.8,264.4 C201.9,261.4 201.8,260.7 201.3,257.6 C200.9,254.4 201.1,253.7 200.8,250.8 C200.6,247.9 200.7,247.6 200.3,245.0 C200.0,242.4 200.1,241.7 199.4,239.9 C198.7,238.0 198.7,238.1 197.4,237.0 C196.2,235.8 195.2,235.9 194.1,235.0 C192.9,234.1 192.6,234.1 192.6,233.1Z" fill="#9370DB" /><path d="M180.0,287.6 C180.1,286.1 181.6,284.0 182.9,282.8 C184.2,281.5 186.3,280.9 187.8,280.3 C189.2,279.8 190.3,279.2 191.6,279.4 C192.9,279.5 194.4,280.6 195.5,281.3 C196.6,282.0 197.8,282.7 198.4,283.7 C199.1,284.8 198.9,286.5 199.4,287.6 C199.9,288.7 200.7,289.5 201.3,290.5 C201.9,291.5 202.8,292.4 202.8,293.4 C202.8,294.5 202.2,295.9 201.3,296.8 C200.4,297.7 198.7,298.5 197.4,298.7 C196.2,299.0 194.9,298.7 193.6,298.3 C192.3,297.8 191.0,297.0 189.7,296.3 C188.4,295.7 187.0,295.2 185.8,294.4 C184.6,293.6 183.4,292.6 182.4,291.5 C181.5,290.3 179.9,289.1 180.0,287.6Z" fill="#9370DB" /><path d="M127.3,215.2 L128.3,216.7 L129.2,220.4 L130.4,223.6 L132.3,226.7 L133.6,229.2 L133.9,231.7 L134.8,232.9 L137.3,233.5 L139.8,232.6 L142.9,232.3 L146.0,232.9 L149.1,233.5 L152.2,234.8 L155.3,236.3 L157.8,238.5 L160.3,241.0 L163.0,243.2 L165.2,248.3 L167.1,244.4 L170.0,242.0 L174.9,240.5 L180.0,238.6 L180.0,237.0 L182.9,233.1 L184.4,227.3 L185.8,220.5 L187.3,213.7 L190.7,207.9 L194.1,202.1 L193.6,200.7 L195.5,201.1 L196.0,199.2 L197.9,200.0 L198.4,198.0 L200.3,199.2 L201.3,197.5 L203.3,198.2 L203.7,196.5 L205.7,197.1 L206.3,199.2 L208.1,200.2 L212.0,197.8 L215.8,196.3 L220.0,196.1 L225.8,197.8 L230.7,199.7 L234.5,202.6 L239.4,203.1 L244.2,204.0 L248.1,204.0 L249.5,202.6 L250.5,204.0 L251.0,207.0 L252.4,210.3 L254.9,208.4 L258.7,207.9 L262.6,208.4 L265.5,210.8 L268.4,213.7 L269.4,215.2 L271.3,213.2 L275.2,213.2 L277.6,215.7 L278.1,219.5 L277.1,220.5 L277.6,225.3 L279.1,230.2 L280.5,234.1 L282.0,237.9 L279.1,239.9 L275.2,241.3 L273.7,242.8 L275.2,245.0 L275.8,245.8 L277.7,248.7 L281.6,250.7 L285.5,253.6 L288.4,256.5 L289.8,260.3 L290.8,266.2 L290.5,272.0 L289.8,277.8 L291.0,280.0 L291.5,284.8 L289.0,288.7 L286.1,292.6 L285.7,295.5 L287.6,297.4 L287.1,299.8 L283.2,302.3 L279.8,305.7 L277.9,309.0 L277.9,311.0 L275.5,313.9 L275.0,316.8 L271.6,317.3 L270.7,318.7 L272.6,320.7 L270.7,323.1 L266.8,325.5 L262.9,327.4 L260.0,329.9 L258.1,330.5 L255.7,331.2 L253.3,332.1 L251.3,330.8 L249.4,331.2 L247.4,332.4 L245.5,332.1 L243.6,333.4 L241.6,334.4 L240.2,333.2 L238.7,333.4 L236.8,334.6 L233.9,334.1 L231.0,333.9 L229.5,331.5 L228.6,330.8 L227.6,332.4 L225.2,333.4 L223.2,332.9 L219.4,331.0 L217.9,328.1 L218.4,325.2 L220.3,323.2 L221.3,320.3 L222.3,316.5 L220.8,312.6 L219.4,308.7 L217.9,305.8 L219.8,302.9 L220.3,300.0 L220.0,299.2 L217.8,293.4 L213.9,289.5 L210.0,287.6 L207.1,285.7 L203.3,282.8 L200.3,279.9 L198.4,280.3 L197.9,283.7 L196.5,288.6 L195.0,292.4 L191.6,292.9 L189.7,293.4 L189.9,293.2 L190.8,297.6 L191.3,302.4 L191.8,307.3 L189.4,307.8 L187.0,304.4 L183.1,305.3 L181.2,307.3 L176.3,305.8 L171.5,304.4 L169.1,301.5 L167.6,296.1 L163.7,297.1 L157.9,296.6 L157.3,295.0 L156.7,292.9 L157.3,291.7 L159.2,291.1 L160.4,289.2 L159.8,286.7 L157.9,284.9 L156.0,285.5 L154.5,284.5 L155.4,283.9 L157.3,283.0 L156.7,281.1 L155.4,279.3 L154.2,277.4 L154.8,275.8 L152.3,276.8 L149.8,277.4 L148.3,278.6 L148.0,276.8 L149.2,274.9 L149.8,273.0 L148.3,273.0 L147.3,274.9 L146.1,276.8 L144.2,277.4 L144.8,275.5 L144.2,273.0 L145.8,271.8 L146.7,267.4 L147.3,262.4 L148.0,258.1 L148.9,254.7 L147.3,252.5 L148.6,250.0 L148.8,251.6 L150.4,250.9 L151.6,249.7 L152.2,246.6 L151.9,243.5 L150.4,241.9 L149.1,241.6 L146.6,240.7 L144.1,241.0 L141.7,241.9 L139.2,242.5 L137.0,242.2 L137.3,241.3 L139.2,240.7 L141.0,240.4 L140.1,238.5 L138.5,236.6 L136.7,234.8 L134.8,234.1 L133.6,235.4 L133.2,237.3 L132.3,236.6 L132.0,234.8 L131.1,232.3 L129.5,229.2 L128.0,226.7 L126.1,226.0 L125.8,223.6 L126.4,220.4 L126.7,216.1 L127.3,215.2" fill="none" stroke="#000" stroke-width="1.0" stroke-linejoin="round" /><path d="M150.7,246.0 L150.1,248.5 L147.9,249.4 L145.4,250.3 L143.2,250.3 L142.9,247.8 L143.5,245.3 L142.6,243.8" fill="none" stroke="#000" stroke-width="1.0" stroke-linejoin="round" /><path d="M148.5,242.9 L149.4,245.3 L149.1,248.5" fill="none" stroke="#000" stroke-width="1.0" stroke-linejoin="round" /><path d="M138.5,247.2 L139.8,246.3 L141.0,247.5 L140.1,248.8 L138.9,248.5 L138.5,247.2" fill="none" stroke="#000" stroke-width="1.0" stroke-linejoin="round" /><path d="M122.7,212.4 L122.4,215.5 L122.7,218.6" fill="none" stroke="#000" stroke-width="1.0" stroke-linejoin="round" /><path d="M128.9,211.4 L128.0,213.6 L128.9,216.1 L130.4,217.3 L129.8,214.8 L128.9,211.4" fill="none" stroke="#000" stroke-width="1.0" stroke-linejoin="round" /><path d="M126.1,223.6 L127.3,224.2 L127.0,226.0" fill="none" stroke="#000" stroke-width="1.0" stroke-linejoin="round" /><path d="M132.0,234.8 L132.9,233.5 L134.2,232.9" fill="none" stroke="#000" stroke-width="1.0" stroke-linejoin="round" /><path d="M130.7,192.1 L132.8,191.7 L131.9,193.2 L130.7,192.1" fill="none" stroke="#000" stroke-width="1.0" stroke-linejoin="round" /><path d="M195.5,300.2 L197.0,299.2 L197.4,302.1 L196.0,304.1 L195.0,302.1 L195.5,300.2" fill="none" stroke="#000" stroke-width="1.0" stroke-linejoin="round" /><path d="M216.0,309.2 L217.9,308.7 L218.4,310.2 L216.5,310.5 L216.0,309.2" fill="none" stroke="#000" stroke-width="1.0" stroke-linejoin="round" /></g><circle cx="208" cy="266" r="126.5" fill="none" stroke="#000" stroke-width="0.9"/>
<clipPath id="c2"><circle cx="466" cy="266" r="126.5"/></clipPath><g clip-path="url(#c2)"><circle cx="466" cy="266" r="127.5" fill="#94BE32"/><path d="M349.5,219.6 C351.9,219.1 352.5,218.6 354.0,219.1 C355.5,219.5 357.4,220.9 358.5,222.3 C359.5,223.7 360.4,225.8 360.3,227.7 C360.1,229.6 358.8,232.2 357.6,234.0 C356.4,235.8 354.7,237.3 353.1,238.5 C351.4,239.7 349.3,240.6 347.7,241.2 C346.0,241.8 345.1,242.8 343.2,242.1 C341.2,241.3 336.6,240.0 336.0,236.7 C335.4,233.4 337.3,225.2 339.6,222.3 C341.8,219.5 347.1,220.1 349.5,219.6Z" fill="#F5E6BE" /><path d="M346.8,225.9 C347.8,225.3 349.3,224.0 350.4,224.1 C351.4,224.3 352.8,225.6 353.1,226.8 C353.4,228.0 352.9,230.1 352.2,231.3 C351.4,232.5 349.7,233.5 348.6,234.0 C347.4,234.4 346.2,234.4 345.3,234.0 C344.5,233.5 343.4,232.3 343.2,231.3 C343.0,230.2 343.5,228.6 344.1,227.7 C344.7,226.8 345.7,226.5 346.8,225.9Z" fill="#DEB887" /><path d="M344.1,285.8 L345.9,288.5 L348.6,298.4 L351.3,307.4 L354.9,317.2 L353.1,319.0 L346.8,312.7 L339.6,293.0Z" fill="#F5E6BE" /><path d="M356.1,323.9 C357.0,322.5 360.9,325.2 363.0,326.2 C365.0,327.3 367.0,328.6 368.4,330.4 C369.8,332.2 370.7,334.6 371.4,337.0 C372.2,339.5 372.3,342.4 372.9,345.1 C373.4,347.8 375.4,352.3 374.7,353.2 C373.9,354.1 371.2,353.7 368.4,350.5 C365.5,347.4 359.6,338.8 357.6,334.3 C355.5,329.9 355.2,325.2 356.1,323.9Z" fill="#F5E6BE" /><path d="M377.7,354.6 C378.6,354.0 382.7,356.6 384.5,357.7 C386.4,358.8 388.0,359.8 389.0,361.3 C390.1,362.8 389.9,364.7 390.8,366.7 C391.8,368.6 395.4,372.1 395.0,373.0 C394.5,373.9 390.8,374.0 388.1,372.1 C385.5,370.1 380.9,364.2 379.2,361.3 C377.4,358.4 376.8,355.2 377.7,354.6Z" fill="#F5E6BE" /><path d="M412.4,381.1 C413.9,376.2 416.0,379.5 418.7,378.4 C421.4,377.3 423.0,376.6 425.9,375.7 C428.8,374.8 430.2,374.4 433.1,373.9 C436.0,373.3 437.4,373.3 440.3,373.0 C443.2,372.6 444.6,372.4 447.5,372.1 C450.4,371.7 451.8,371.2 454.7,371.2 C457.5,371.2 459.6,371.9 461.9,372.1 C464.1,372.3 463.7,372.4 466.0,372.1 C468.3,371.7 470.3,370.9 473.2,370.3 C476.1,369.6 477.1,368.8 480.4,368.8 C483.6,368.8 486.1,369.6 489.4,370.3 C492.6,370.9 494.0,371.4 496.6,372.1 C499.1,372.8 499.8,373.0 502.0,373.9 C504.1,374.8 505.2,376.6 507.4,376.6 C509.5,376.6 510.6,374.8 512.7,373.9 C514.9,373.0 515.6,372.1 518.1,372.1 C520.7,372.1 523.0,373.2 525.3,373.9 C527.7,374.5 529.5,372.4 529.8,375.3 C530.2,378.2 539.9,382.8 527.1,388.3 C514.4,393.7 489.1,399.8 466.0,402.7 C442.9,405.5 422.2,407.0 411.5,402.7 C400.8,398.3 411.0,385.9 412.4,381.1Z" fill="#F5E6BE" /><path d="M449.3,391.9 C446.3,389.3 449.3,391.5 451.1,390.1 C452.9,388.6 455.3,386.5 458.3,384.7 C461.3,382.9 463.0,382.7 466.0,381.1 C469.0,379.5 470.3,377.8 473.2,376.6 C476.1,375.3 477.5,374.8 480.4,374.8 C483.3,374.8 485.1,375.7 487.6,376.6 C490.1,377.5 490.8,378.0 493.0,379.3 C495.1,380.5 496.6,381.3 498.4,382.9 C500.2,384.5 501.6,384.1 502.0,387.4 C502.3,390.6 507.4,396.0 500.2,399.1 C493.0,402.1 476.2,404.1 466.0,402.7 C455.8,401.2 452.3,394.4 449.3,391.9Z" fill="#DEB887" /><path d="M583.8,313.9 L580.0,313.9 L577.5,315.8 L575.6,319.7 L573.2,324.5 L570.8,329.4 L567.4,334.2 L563.5,339.1 L559.6,343.9 L555.8,347.8 L553.3,350.7 L566.4,350.7 L588.0,318.7Z" fill="#F5E6BE" /><path d="M565.4,188.5 L567.8,196.2 L570.6,203.4 L575.0,212.4 L580.7,221.9 L584.7,220.5 L570.3,189.9Z" fill="#F5E6BE" /><path d="M590.0,254.1 L589.4,260.3 L590.3,266.2 L590.7,272.0 L591.2,280.0 L595.8,280.0 L595.8,254.1Z" fill="#F5E6BE" /><path d="M592.2,266.0 L590.1,273.2 L591.9,284.0 L596.0,284.0 L596.0,266.0Z" fill="#F5E6BE" /><path d="M502.9,145.9 C509.6,150.9 509.6,149.0 512.7,152.2 C515.9,155.3 514.7,156.4 516.3,159.4 C518.0,162.3 517.4,162.3 519.9,164.8 C522.5,167.3 523.8,167.6 527.1,170.2 C530.5,172.7 531.0,173.0 534.3,175.6 C537.7,178.1 538.6,178.2 541.5,181.0 C544.5,183.7 544.4,183.9 546.9,187.2 C549.4,190.6 549.8,191.8 552.3,195.3 C554.8,198.9 555.1,199.1 557.7,202.5 C560.3,205.9 561.6,207.1 563.3,210.0 C565.1,212.9 564.3,212.4 565.3,214.8 C566.3,217.3 566.5,217.9 567.7,220.7 C568.9,223.4 569.0,223.7 570.6,226.5 C572.2,229.2 572.9,229.6 574.5,232.3 C576.1,235.0 576.4,235.4 577.4,238.1 C578.4,240.8 578.5,240.9 578.8,243.9 C579.2,246.8 579.1,247.7 578.8,250.7 C578.6,253.6 578.3,253.8 577.9,256.5 C577.4,259.2 577.3,259.6 576.9,262.3 C576.4,265.0 576.2,265.4 575.9,268.1 C575.7,270.8 575.8,271.1 575.9,273.9 C576.0,276.7 576.7,277.4 576.4,280.0 C576.1,282.6 575.5,282.6 574.6,284.8 C573.8,287.1 573.6,287.4 572.7,289.7 C571.8,291.9 571.6,292.3 570.8,294.5 C570.0,296.8 570.0,297.1 569.3,299.4 C568.6,301.6 568.7,301.9 567.9,304.2 C567.1,306.5 566.9,306.8 565.9,309.0 C564.9,311.3 564.7,311.6 563.5,313.9 C562.3,316.1 562.0,316.7 560.6,318.7 C559.2,320.8 559.1,321.0 557.7,322.6 C556.3,324.2 556.4,324.4 554.8,325.5 C553.2,326.6 552.7,326.8 550.9,327.4 C549.1,328.1 548.6,328.4 547.0,328.4 C545.5,328.4 545.3,328.2 544.1,327.4 C543.0,326.7 543.0,326.3 542.2,325.0 C541.4,323.8 541.9,322.3 540.8,322.1 C539.6,321.9 539.1,322.8 537.4,324.1 C535.7,325.3 535.3,325.7 533.5,327.4 C531.7,329.1 531.3,329.3 529.6,331.3 C527.9,333.3 527.4,333.9 526.2,336.2 C525.1,338.4 525.2,338.7 524.8,341.0 C524.3,343.3 524.6,344.3 524.3,345.8 C524.0,347.3 523.7,345.9 523.4,347.4 C523.0,348.9 523.3,350.2 522.9,352.3 C522.4,354.3 522.3,354.7 521.4,356.2 C520.5,357.6 520.5,357.6 519.0,358.6 C517.5,359.6 517.2,359.8 515.1,360.5 C513.1,361.2 512.8,361.0 510.3,361.5 C507.8,361.9 507.2,362.1 504.5,362.4 C501.8,362.8 501.4,362.7 498.7,362.9 C496.0,363.2 495.6,363.2 492.9,363.4 C490.1,363.6 489.8,363.6 487.0,363.7 C484.3,363.8 483.9,364.0 481.2,363.9 C478.5,363.8 478.1,363.6 475.4,363.4 C472.7,363.2 472.3,363.3 469.6,362.9 C466.9,362.6 466.5,362.3 463.8,362.0 C461.1,361.6 460.2,361.5 458.0,361.5 C455.8,361.5 456.5,362.0 454.2,362.0 C452.0,362.0 451.3,361.7 448.4,361.5 C445.6,361.2 444.8,361.3 442.0,360.8 C439.1,360.3 438.9,360.1 436.2,359.4 C433.4,358.7 433.1,358.6 430.3,357.9 C427.6,357.2 427.2,357.1 424.5,356.3 C421.8,355.5 421.4,355.6 418.7,354.5 C416.0,353.5 415.6,353.1 412.9,351.6 C410.2,350.2 409.8,349.8 407.1,348.2 C404.4,346.7 403.8,346.5 401.3,344.9 C398.8,343.2 398.7,343.0 396.5,341.0 C394.2,338.9 393.9,338.9 391.6,336.1 C389.4,333.4 387.8,330.6 386.8,329.4 C385.8,328.1 388.0,331.5 387.4,330.7 C386.9,329.9 385.8,328.2 384.5,325.9 C383.3,323.6 383.1,323.3 382.1,321.1 C381.1,318.8 381.1,318.5 380.2,316.2 C379.3,314.0 379.0,313.6 378.2,311.4 C377.5,309.1 377.6,308.6 376.8,306.5 C376.0,304.5 376.0,304.4 374.9,302.7 C373.7,301.0 373.4,301.1 372.0,299.3 C370.5,297.5 369.7,297.1 368.6,294.9 C367.4,292.8 367.7,292.6 367.1,290.1 C366.5,287.6 366.6,287.0 366.1,284.3 C365.7,281.6 365.7,281.2 365.2,278.5 C364.6,275.7 364.2,275.4 363.7,272.7 C363.3,269.9 363.2,269.3 363.2,266.8 C363.2,264.4 363.6,263.2 363.7,262.0 C363.9,260.8 364.0,264.0 363.9,261.9 C363.7,259.7 362.8,257.1 363.0,252.9 C363.2,248.7 364.3,248.1 364.8,243.9 C365.2,239.7 364.8,239.1 364.8,234.9 C364.8,230.7 365.2,229.7 364.8,225.9 C364.3,222.1 364.2,221.4 363.0,218.7 C361.7,216.0 361.5,215.7 359.4,214.2 C357.3,212.7 357.8,216.8 354.0,212.4 C350.2,208.0 339.0,209.0 343.2,195.3 C347.4,181.7 355.8,163.5 372.0,154.0 C388.1,144.5 401.5,154.7 412.4,154.5 C423.3,154.3 415.6,153.5 418.7,153.1 C421.9,152.6 422.5,153.3 425.9,152.5 C429.3,151.8 429.7,151.7 433.1,150.0 C436.5,148.3 437.8,148.6 440.3,145.3 C442.8,142.1 437.9,139.4 443.9,136.0 C449.9,132.6 456.6,131.9 466.0,130.6 C475.4,129.3 475.4,127.0 484.0,130.6 C492.6,134.2 496.1,140.9 502.9,145.9Z" fill="#BCEE68" /><path d="M466.0,159.0 C469.5,158.7 470.8,158.9 475.0,159.4 C479.2,159.9 479.8,160.1 484.0,161.2 C488.2,162.2 488.8,162.2 493.0,163.9 C497.2,165.5 497.8,166.3 502.0,168.4 C506.2,170.5 507.6,171.3 511.0,172.9 C514.3,174.4 514.0,173.6 516.2,175.0 C518.5,176.4 518.5,176.8 520.6,178.9 C522.7,180.9 523.2,181.5 525.4,183.7 C527.7,186.0 528.5,186.5 530.3,188.6 C532.1,190.6 532.7,190.7 533.2,192.4 C533.6,194.1 533.3,194.5 532.2,195.8 C531.1,197.2 530.2,197.1 528.3,198.2 C526.5,199.4 525.7,199.8 524.5,200.7 C523.2,201.6 523.0,201.3 523.0,202.1 C523.0,202.9 523.2,202.7 524.5,204.0 C525.7,205.4 526.5,206.3 528.3,207.9 C530.2,209.5 530.6,209.4 532.2,210.8 C533.8,212.3 534.0,212.6 535.1,214.2 C536.3,215.8 535.9,216.1 537.1,217.6 C538.2,219.1 538.4,219.1 540.0,220.5 C541.5,221.9 541.7,223.0 543.8,223.4 C546.0,223.8 546.7,221.6 549.3,222.1 C551.9,222.6 552.6,223.6 555.1,225.5 C557.6,227.4 558.1,227.8 560.0,230.3 C561.8,232.8 561.8,233.2 562.9,236.1 C563.9,239.1 564.1,240.0 564.3,242.9 C564.5,245.9 564.4,246.0 563.8,248.7 C563.3,251.4 563.0,252.1 561.9,254.5 C560.8,257.0 560.2,257.6 559.0,259.4 C557.7,261.2 557.4,260.5 556.6,262.3 C555.8,264.1 555.9,264.6 555.6,267.1 C555.3,269.6 555.1,269.9 555.1,272.9 C555.1,275.9 555.8,277.4 555.6,280.0 C555.4,282.6 555.1,282.1 554.3,283.9 C553.6,285.7 552.9,285.7 552.4,287.7 C551.8,289.8 552.1,290.3 551.9,292.6 C551.7,294.8 552.1,295.5 551.4,297.4 C550.7,299.3 550.2,299.3 549.0,300.8 C547.7,302.3 547.3,302.1 546.1,303.7 C544.8,305.3 544.9,306.0 543.7,307.6 C542.4,309.2 542.2,309.1 540.8,310.5 C539.3,311.9 538.7,311.9 537.4,313.4 C536.0,314.9 536.2,315.1 534.9,316.8 C533.7,318.5 533.4,318.9 532.0,320.7 C530.7,322.5 530.6,322.5 529.1,324.5 C527.7,326.6 527.4,327.1 525.7,329.4 C524.1,331.6 523.7,332.0 521.9,334.2 C520.1,336.5 519.8,336.4 518.0,339.1 C516.2,341.7 516.0,343.2 514.2,345.5 C512.4,347.8 512.1,347.7 510.3,348.9 C508.5,350.1 508.4,349.9 506.4,350.8 C504.4,351.7 503.8,352.1 501.6,352.8 C499.3,353.4 499.2,353.4 496.7,353.7 C494.2,354.1 493.6,354.0 490.9,354.2 C488.2,354.4 487.8,354.6 485.1,354.7 C482.4,354.8 482.0,354.8 479.3,354.7 C476.6,354.6 476.2,354.6 473.5,354.4 C470.8,354.2 470.2,354.1 467.7,353.7 C465.2,353.4 465.1,353.4 462.8,353.1 C460.6,352.7 460.0,352.6 458.0,352.3 C456.0,352.0 456.5,352.1 454.2,351.8 C452.0,351.5 451.1,351.4 448.4,350.8 C445.7,350.3 445.3,350.2 442.6,349.4 C439.9,348.6 439.5,348.5 436.8,347.4 C434.1,346.4 433.7,346.2 431.0,345.0 C428.3,343.9 427.9,343.8 425.2,342.6 C422.5,341.4 421.6,341.3 419.4,339.7 C417.1,338.1 417.8,337.6 415.5,335.8 C413.2,334.0 412.2,334.0 409.7,332.0 C407.2,329.9 407.1,329.5 404.8,327.1 C402.6,324.7 401.3,323.4 400.0,321.8 C398.7,320.1 400.1,321.6 399.1,320.1 C398.0,318.6 397.1,317.5 395.7,315.3 C394.2,313.0 393.9,312.7 392.8,310.4 C391.6,308.2 391.6,307.8 390.8,305.6 C390.0,303.3 390.2,303.0 389.4,300.7 C388.6,298.5 388.6,298.4 387.4,295.9 C386.3,293.4 385.6,292.8 384.5,290.1 C383.5,287.4 383.8,287.0 383.1,284.3 C382.4,281.6 382.4,281.2 381.6,278.5 C380.8,275.7 380.6,275.8 379.7,272.7 C378.8,269.5 378.3,268.2 377.7,265.0 C377.1,261.8 377.4,261.7 377.2,258.9 C377.0,256.1 376.8,255.8 376.7,253.1 C376.6,250.4 376.6,250.0 376.7,247.3 C376.8,244.6 376.5,243.4 377.2,241.5 C377.9,239.6 377.7,239.6 379.6,239.1 C381.5,238.5 382.9,238.8 385.4,239.1 C387.9,239.3 388.0,239.6 390.3,240.0 C392.5,240.5 393.1,240.9 395.1,241.0 C397.1,241.1 397.3,241.2 399.0,240.5 C400.7,239.8 401.2,239.2 402.4,238.1 C403.5,237.0 403.7,236.8 403.8,235.7 C403.9,234.5 404.2,234.3 402.9,233.2 C401.5,232.2 400.3,232.5 398.0,231.3 C395.8,230.1 395.2,229.8 393.2,227.9 C391.1,226.0 390.9,225.3 389.3,223.1 C387.7,220.8 388.0,220.5 386.4,218.2 C384.8,216.0 384.1,215.7 382.5,213.4 C380.9,211.1 380.5,210.8 379.6,208.6 C378.7,206.3 378.2,206.0 378.7,203.7 C379.1,201.5 379.7,200.9 381.6,198.9 C383.4,196.8 383.7,197.1 386.4,195.0 C389.1,192.9 390.3,191.8 393.2,189.7 C396.1,187.5 396.1,187.7 398.7,185.8 C401.3,183.9 401.7,183.5 404.3,181.6 C406.8,179.8 407.2,179.3 409.8,177.8 C412.4,176.2 412.7,176.2 415.3,175.0 C417.9,173.8 418.3,173.7 420.9,172.7 C423.4,171.6 423.8,171.5 426.4,170.6 C429.0,169.6 429.3,169.6 431.9,168.6 C434.5,167.7 434.9,167.4 437.5,166.4 C440.0,165.5 440.4,165.3 443.0,164.5 C445.6,163.7 445.9,163.6 448.5,163.0 C451.1,162.3 451.4,162.2 454.1,161.7 C456.7,161.2 457.2,161.5 460.0,160.9 C462.8,160.3 462.5,159.4 466.0,159.0Z" fill="#20B2AA" /><path d="M408.0,197.8 C408.2,197.2 410.4,194.8 412.8,192.4 C415.3,190.1 415.7,189.6 418.7,187.6 C421.6,185.6 422.0,185.3 425.4,183.7 C428.8,182.1 429.6,181.9 433.2,180.8 C436.8,179.7 437.3,179.6 440.9,178.9 C444.5,178.2 445.0,177.9 448.7,177.9 C452.3,177.9 453.0,178.2 456.4,178.9 C459.8,179.6 460.0,180.1 463.2,180.8 C466.3,181.5 466.5,181.7 470.0,181.8 C473.4,181.9 474.8,181.6 478.0,181.3 C481.2,181.0 481.1,180.4 483.8,180.3 C486.5,180.2 486.9,180.4 489.6,180.8 C492.3,181.3 492.7,181.4 495.4,182.3 C498.1,183.2 498.5,183.3 501.2,184.7 C503.9,186.0 504.9,186.5 507.0,188.1 C509.2,189.7 509.3,189.8 510.4,191.5 C511.6,193.2 511.8,193.5 511.9,195.3 C512.0,197.1 511.5,197.6 510.9,199.2 C510.4,200.8 509.5,201.0 509.5,202.1 C509.5,203.2 509.7,203.3 510.9,204.0 C512.2,204.8 512.8,204.7 514.8,205.5 C516.8,206.3 517.4,206.3 519.6,207.4 C521.9,208.6 522.4,209.0 524.5,210.3 C526.5,211.7 526.5,211.8 528.3,213.2 C530.2,214.7 530.4,214.9 532.2,216.6 C534.0,218.3 534.3,218.8 536.1,220.5 C537.9,222.2 538.2,222.3 540.0,223.9 C541.8,225.5 541.9,225.1 543.8,227.3 C545.8,229.5 546.6,230.7 548.3,233.2 C550.1,235.8 550.3,236.0 551.2,238.1 C552.1,240.1 552.3,239.9 552.2,242.0 C552.1,244.0 551.5,244.8 550.8,246.8 C550.0,248.8 549.5,248.9 548.8,250.7 C548.1,252.5 548.0,252.7 547.8,254.5 C547.7,256.3 548.1,256.2 548.3,258.4 C548.6,260.7 548.6,261.5 548.8,264.2 C549.0,266.9 549.3,267.3 549.3,270.0 C549.3,272.7 548.9,273.5 548.8,275.8 C548.7,278.2 548.6,278.1 548.8,280.0 C549.1,281.9 550.3,282.0 550.0,283.9 C549.7,285.8 548.8,286.2 547.5,288.2 C546.3,290.3 545.4,290.9 544.6,292.6 C543.8,294.3 544.0,293.9 544.1,295.5 C544.3,297.1 545.6,297.9 545.1,299.4 C544.7,300.8 543.7,300.4 542.2,301.8 C540.7,303.1 540.2,303.5 538.8,305.2 C537.5,306.9 537.4,307.2 536.4,309.0 C535.4,310.9 535.4,311.2 534.5,312.9 C533.6,314.6 533.7,315.1 532.5,316.3 C531.4,317.5 530.4,317.2 529.6,318.2 C528.8,319.3 529.8,319.3 529.1,320.7 C528.5,322.0 528.2,322.5 526.7,324.1 C525.2,325.6 524.9,325.9 522.8,327.4 C520.8,329.0 519.8,328.5 518.0,330.8 C516.2,333.1 516.7,335.1 515.1,337.3 C513.5,339.5 513.3,338.9 511.3,340.2 C509.2,341.4 508.7,341.7 506.4,342.6 C504.2,343.5 503.8,343.6 501.6,344.1 C499.3,344.5 499.2,344.4 496.7,344.5 C494.2,344.7 493.6,344.7 490.9,344.7 C488.2,344.8 487.8,344.7 485.1,344.7 C482.4,344.8 482.0,344.8 479.3,345.0 C476.6,345.2 476.2,345.5 473.5,345.5 C470.8,345.5 470.2,345.4 467.7,345.0 C465.2,344.7 465.1,344.6 462.8,344.1 C460.6,343.5 457.8,342.7 458.0,342.6 C458.2,342.5 463.9,343.7 463.9,343.6 C463.9,343.5 460.8,342.8 458.1,342.1 C455.4,341.4 455.0,341.5 452.3,340.7 C449.6,339.9 449.2,339.7 446.5,338.7 C443.8,337.7 443.4,337.7 440.7,336.3 C438.0,335.0 437.3,334.6 434.9,332.9 C432.4,331.2 431.9,330.9 430.0,329.0 C428.1,327.2 427.9,327.0 426.6,325.2 C425.4,323.4 425.0,323.1 424.7,321.3 C424.3,319.5 424.4,319.0 425.2,317.4 C426.0,315.8 426.3,315.9 428.1,314.5 C429.9,313.2 431.0,313.2 432.9,311.6 C434.8,310.0 435.4,309.7 436.3,307.7 C437.2,305.8 437.0,305.1 436.7,303.4 C436.5,301.7 436.3,302.1 435.3,300.5 C434.3,298.9 433.8,298.7 432.4,296.6 C430.9,294.6 430.3,294.3 429.0,291.8 C427.6,289.3 427.6,288.7 426.6,286.0 C425.6,283.3 425.8,282.4 424.6,280.2 C423.5,277.9 423.3,278.3 421.7,276.3 C420.1,274.3 419.1,273.9 417.9,271.5 C416.6,269.0 416.7,268.4 416.4,265.7 C416.1,262.9 416.6,262.3 416.4,259.8 C416.2,257.4 415.4,254.8 415.4,255.0 C415.4,255.2 416.9,260.8 416.4,260.8 C416.0,260.8 414.9,257.7 413.5,255.0 C412.1,252.3 412.0,251.9 410.6,249.2 C409.2,246.5 408.3,245.9 407.7,243.4 C407.1,240.9 407.5,240.4 408.2,238.6 C408.9,236.8 410.5,237.0 410.6,235.7 C410.7,234.3 409.8,234.2 408.7,232.8 C407.5,231.3 407.3,230.7 405.8,229.4 C404.2,228.0 403.7,228.2 401.9,227.0 C400.1,225.7 399.5,225.6 398.0,224.0 C396.5,222.5 396.2,222.2 395.6,220.2 C395.0,218.1 395.0,217.6 395.6,215.3 C396.2,213.1 396.3,213.0 398.0,210.5 C399.7,208.0 400.6,207.4 402.9,204.7 C405.1,202.0 405.5,201.1 407.7,198.9 C409.8,196.6 412.0,195.3 412.1,195.0 C412.1,194.7 407.8,198.4 408.0,197.8Z" fill="#B0E0E6" /><path d="M453.5,195.8 C453.2,195.2 455.3,193.6 456.4,192.9 C457.5,192.2 459.0,191.5 460.3,191.5 C461.6,191.4 463.3,191.9 464.2,192.4 C465.0,193.0 465.8,194.2 465.6,194.8 C465.4,195.5 464.4,196.0 463.2,196.3 C462.0,196.6 460.0,196.9 458.3,196.8 C456.7,196.7 453.8,196.5 453.5,195.8Z" fill="#20B2AA" /><path d="M474.0,327.6 C474.2,327.0 475.4,326.8 475.9,326.9 C476.4,327.1 477.0,328.0 477.1,328.6 C477.2,329.2 476.8,330.2 476.4,330.5 C476.0,330.8 474.9,330.7 474.5,330.2 C474.1,329.7 473.7,328.1 474.0,327.6Z" fill="#20B2AA" /><path d="M409.1,258.9 C409.9,259.0 411.2,259.7 411.6,260.8 C412.0,261.9 411.8,264.2 411.6,265.7 C411.3,267.1 410.8,268.4 410.1,269.5 C409.4,270.7 408.3,271.9 407.2,272.4 C406.2,273.0 404.6,273.2 403.8,272.9 C403.0,272.6 402.4,271.4 402.4,270.5 C402.3,269.6 402.8,268.7 403.3,267.6 C403.9,266.5 405.1,264.9 405.8,263.7 C406.4,262.5 406.6,261.1 407.2,260.3 C407.8,259.5 408.4,258.8 409.1,258.9Z" fill="#BCEE68" /><path d="M415.9,279.2 C417.2,278.4 418.7,278.0 419.8,278.2 C420.9,278.5 421.8,279.5 422.7,280.7 C423.6,281.8 424.4,283.5 425.1,285.0 C425.8,286.5 426.3,288.2 427.1,289.9 C427.8,291.5 428.6,293.1 429.5,294.7 C430.4,296.3 431.7,298.1 432.4,299.5 C433.0,301.0 433.5,302.1 433.3,303.4 C433.2,304.7 432.2,306.2 431.4,307.3 C430.6,308.3 429.6,309.4 428.5,309.7 C427.4,310.0 425.9,309.6 424.6,309.2 C423.3,308.8 422.1,308.3 420.8,307.3 C419.5,306.3 418.1,304.9 416.9,303.4 C415.7,302.0 414.4,300.2 413.5,298.6 C412.6,297.0 412.0,295.5 411.6,293.7 C411.2,292.0 411.0,289.7 411.1,287.9 C411.2,286.1 411.2,284.5 412.0,283.1 C412.9,281.6 414.6,280.0 415.9,279.2Z" fill="#BCEE68" /><path d="M419.3,283.6 C419.9,283.4 421.0,284.1 421.7,285.0 C422.5,285.9 423.0,287.6 423.7,288.9 C424.3,290.2 425.0,291.5 425.6,292.8 C426.2,294.1 426.9,295.3 427.1,296.6 C427.2,297.9 427.0,299.4 426.6,300.5 C426.2,301.6 425.4,303.0 424.6,303.4 C423.8,303.8 422.5,303.4 421.7,302.9 C420.9,302.4 420.3,301.4 419.8,300.5 C419.3,299.6 418.7,298.2 418.8,297.6 C419.0,297.0 420.6,297.3 420.8,296.6 C420.9,296.0 420.2,294.9 419.8,293.7 C419.4,292.6 418.6,291.1 418.3,289.9 C418.1,288.6 418.2,287.0 418.3,286.0 C418.5,284.9 418.7,283.7 419.3,283.6Z" fill="#94BE32" /><path d="M406.7,261.8 C407.1,260.2 407.9,259.2 408.7,258.9 C409.4,258.6 410.6,258.9 411.1,259.9 C411.6,260.9 411.6,263.5 411.6,265.0 C411.5,266.5 411.4,268.0 410.6,268.6 C409.8,269.2 407.4,269.7 406.7,268.6 C406.1,267.5 406.4,263.4 406.7,261.8Z" fill="#BCEE68" /><path d="M414.3,220.5 C415.0,219.0 415.5,218.2 417.7,216.6 C419.8,215.1 420.8,215.1 423.5,213.7 C426.2,212.4 426.8,211.8 429.3,210.8 C431.8,209.8 432.4,209.3 434.1,209.4 C435.8,209.5 435.9,209.8 436.6,211.3 C437.2,212.8 436.5,213.5 437.0,215.7 C437.6,217.8 438.0,218.7 439.0,220.5 C440.0,222.3 440.2,222.4 441.4,223.4 C442.6,224.4 443.1,224.7 444.3,224.9 C445.5,225.0 445.5,224.9 446.7,223.9 C448.0,222.9 448.5,222.4 449.6,220.5 C450.8,218.6 450.9,217.9 451.6,215.7 C452.2,213.4 451.6,212.9 452.5,210.8 C453.4,208.8 453.6,208.4 455.4,207.0 C457.2,205.5 458.2,205.5 460.3,204.5 C462.3,203.5 462.3,203.5 464.2,202.6 C466.0,201.7 466.0,201.4 468.0,200.7 C470.1,199.9 470.5,199.4 472.9,199.2 C475.2,199.0 475.7,199.3 478.0,199.7 C480.3,200.0 480.6,200.2 482.8,200.7 C485.1,201.1 485.4,201.2 487.7,201.6 C489.9,202.1 490.3,202.0 492.5,202.6 C494.8,203.2 494.9,203.3 497.4,204.0 C499.8,204.8 500.7,205.1 503.2,206.0 C505.7,206.9 505.8,206.9 508.0,207.9 C510.3,208.9 510.6,209.4 512.9,210.3 C515.1,211.2 515.4,211.0 517.7,211.8 C520.0,212.6 520.3,212.6 522.5,213.7 C524.8,214.9 525.3,215.1 527.4,216.6 C529.4,218.2 529.8,218.5 531.3,220.5 C532.7,222.5 532.9,223.1 533.7,225.3 C534.5,227.6 534.5,228.2 534.6,230.2 C534.8,232.2 533.6,230.0 534.2,234.1 C534.7,238.1 535.6,243.4 537.1,247.4 C538.5,251.4 539.2,249.1 540.4,251.3 C541.7,253.4 541.6,253.8 542.4,256.6 C543.2,259.4 543.3,260.2 543.8,263.4 C544.4,266.6 544.5,267.0 544.8,270.2 C545.1,273.3 545.0,274.0 545.0,277.0 C545.0,279.9 545.2,280.3 544.6,282.8 C544.0,285.2 543.5,285.6 542.4,287.6 C541.3,289.6 540.5,289.8 540.0,291.5 C539.5,293.2 540.7,292.7 540.2,294.8 C539.7,297.0 538.9,298.1 537.8,300.7 C536.6,303.2 536.5,303.6 535.3,306.0 C534.2,308.3 534.1,308.6 532.9,310.8 C531.8,313.1 531.7,313.5 530.5,315.7 C529.3,317.8 529.2,318.1 527.6,320.0 C526.0,321.9 525.8,322.2 523.7,323.9 C521.7,325.6 521.4,325.9 518.9,327.3 C516.4,328.6 515.8,328.7 513.1,329.7 C510.4,330.7 510.0,330.8 507.3,331.6 C504.6,332.4 503.5,333.0 501.5,333.1 C499.5,333.2 500.4,332.3 498.7,332.0 C496.9,331.6 496.1,331.5 493.8,331.5 C491.6,331.5 490.8,331.3 489.0,332.0 C487.2,332.6 487.4,333.6 486.1,334.4 C484.7,335.2 484.2,335.7 483.2,335.3 C482.2,335.0 481.9,334.4 481.7,332.9 C481.5,331.4 482.0,331.1 482.2,329.0 C482.4,327.0 482.8,326.5 482.7,324.2 C482.6,321.9 482.1,321.6 481.7,319.4 C481.4,317.1 481.9,316.6 481.2,314.5 C480.6,312.5 479.7,312.2 478.8,310.7 C477.9,309.1 478.8,308.5 477.4,307.7 C475.9,307.0 474.1,306.8 472.5,307.3 C470.9,307.7 471.2,308.0 470.6,309.7 C470.0,311.4 470.6,312.3 470.1,314.5 C469.7,316.8 469.7,317.3 468.7,319.4 C467.6,321.4 467.3,321.8 465.7,323.2 C464.2,324.7 463.7,324.8 461.9,325.7 C460.1,326.6 460.8,328.0 458.0,327.1 C455.2,326.2 452.6,323.9 449.8,321.8 C447.0,319.7 447.3,320.0 445.9,317.9 C444.6,315.9 444.3,315.1 444.0,313.1 C443.7,311.1 444.3,311.0 444.5,309.2 C444.7,307.4 445.3,307.2 445.0,305.3 C444.6,303.5 444.2,303.1 443.0,301.5 C441.9,299.9 441.6,300.1 440.1,298.6 C438.7,297.0 438.2,296.5 436.7,294.7 C435.3,292.9 435.1,292.6 433.8,290.8 C432.6,289.0 432.3,289.0 431.4,287.0 C430.5,284.9 430.5,284.6 430.0,282.1 C429.4,279.6 429.6,278.8 429.0,276.3 C428.4,273.8 428.0,273.7 427.5,271.5 C427.1,269.2 426.8,268.7 427.1,266.6 C427.3,264.6 427.9,264.6 428.5,262.7 C429.1,260.9 429.5,260.7 429.5,258.9 C429.5,257.1 428.5,257.3 428.5,255.0 C428.5,252.7 429.6,251.7 429.5,249.2 C429.4,246.7 428.8,246.6 428.0,244.4 C427.2,242.1 427.2,241.6 426.1,239.5 C425.0,237.5 424.8,237.5 423.2,235.7 C421.6,233.9 421.0,233.8 419.3,231.8 C417.6,229.8 417.1,229.0 415.9,227.0 C414.8,224.9 414.9,224.6 414.5,223.1 C414.1,221.6 413.5,222.0 414.3,220.5Z" fill="#789BF2" /><path d="M470.0,310.8 C470.3,309.5 471.5,308.6 472.9,307.9 C474.2,307.3 476.5,306.2 478.0,307.0 C479.5,307.8 482.0,311.2 481.6,312.8 C481.2,314.4 477.5,316.2 475.8,316.6 C474.0,317.1 471.9,316.6 470.9,315.7 C470.0,314.7 469.6,312.1 470.0,310.8Z" fill="#B0E0E6" /><path d="M434.1,236.0 C435.2,235.7 436.2,236.9 438.0,236.5 C439.8,236.0 440.2,235.4 441.9,234.1 C443.6,232.7 443.7,232.3 445.3,230.7 C446.9,229.1 447.2,229.0 448.7,227.3 C450.1,225.6 450.4,225.2 451.6,223.4 C452.7,221.6 452.8,221.6 453.5,219.5 C454.2,217.5 453.8,216.7 454.5,214.7 C455.2,212.7 455.1,212.5 456.4,210.8 C457.8,209.1 458.2,208.8 460.3,207.4 C462.3,206.1 463.1,206.0 465.1,205.0 C467.2,204.0 467.0,203.9 469.0,203.1 C471.0,202.2 471.7,201.3 473.8,201.3 C475.9,201.3 475.9,202.4 478.0,203.1 C480.1,203.7 480.6,203.5 482.8,204.0 C485.1,204.6 485.4,204.9 487.7,205.5 C489.9,206.1 490.0,205.8 492.5,206.5 C495.0,207.1 495.8,207.7 498.3,208.4 C500.8,209.1 500.9,208.7 503.2,209.4 C505.4,210.0 505.8,210.4 508.0,211.3 C510.3,212.2 510.6,212.5 512.9,213.2 C515.1,214.0 515.7,214.0 517.7,214.7 C519.7,215.4 519.8,215.2 521.6,216.1 C523.4,217.1 523.9,217.3 525.4,218.6 C527.0,219.8 527.2,219.9 528.3,221.5 C529.5,223.1 529.7,223.5 530.3,225.3 C530.8,227.2 531.0,227.4 530.8,229.2 C530.5,231.0 530.0,231.3 529.3,233.1 C528.6,234.9 528.1,235.2 527.9,237.0 C527.6,238.8 527.1,238.3 528.3,240.8 C529.6,243.4 531.3,245.4 533.2,247.9 C535.1,250.5 535.2,249.5 536.6,251.8 C537.9,254.0 538.0,254.6 539.0,257.6 C540.0,260.5 540.3,261.2 540.9,264.4 C541.6,267.5 541.6,268.0 541.9,271.1 C542.2,274.3 542.2,275.2 542.1,277.9 C542.0,280.6 542.1,280.5 541.4,282.8 C540.7,285.0 540.2,285.3 539.0,287.6 C537.8,289.9 537.3,290.2 536.1,292.4 C534.8,294.7 534.8,295.0 533.7,297.3 C532.5,299.5 532.4,299.6 531.3,302.1 C530.1,304.6 529.5,305.7 528.8,307.9 C528.2,310.2 529.2,309.8 528.6,311.8 C527.9,313.8 527.5,314.5 526.1,316.6 C524.8,318.8 524.7,319.3 522.8,321.0 C520.8,322.7 520.4,322.7 517.9,323.9 C515.4,325.1 515.7,324.8 512.1,326.0 C508.5,327.2 505.9,328.2 502.5,329.0 C499.2,329.9 500.0,329.6 497.7,329.5 C495.4,329.4 494.9,329.5 492.9,328.6 C490.8,327.7 490.6,327.4 489.0,325.7 C487.4,324.0 487.2,323.4 486.1,321.3 C484.9,319.2 484.9,319.2 484.1,316.5 C483.4,313.7 483.1,312.6 482.7,309.7 C482.2,306.7 482.9,305.9 482.2,303.9 C481.5,301.8 481.1,301.1 479.8,301.0 C478.4,300.9 478.1,303.0 476.4,303.4 C474.7,303.7 474.6,302.5 472.5,302.4 C470.5,302.3 469.9,302.5 467.7,302.9 C465.4,303.4 465.1,303.8 462.8,304.4 C460.6,304.9 456.8,305.6 458.0,305.3 C459.2,305.0 466.8,303.3 468.0,303.1 C469.2,302.9 465.4,304.1 463.2,304.5 C460.9,305.0 460.6,304.8 458.3,305.0 C456.1,305.3 455.5,305.5 453.5,305.5 C451.5,305.5 451.2,305.6 449.6,305.0 C448.1,304.5 448.1,304.2 446.7,303.1 C445.4,302.0 445.4,301.5 443.8,300.2 C442.2,298.8 441.8,298.9 440.0,297.3 C438.1,295.7 437.3,295.4 436.1,293.4 C434.8,291.4 435.1,290.8 434.6,288.6 C434.2,286.3 434.4,286.0 434.1,283.7 C433.9,281.5 434.1,281.1 433.7,278.9 C433.2,276.6 432.7,276.3 432.2,274.0 C431.8,271.8 431.3,271.1 431.7,269.2 C432.2,267.3 432.4,267.2 434.1,265.8 C435.8,264.5 437.3,264.9 439.0,263.4 C440.7,261.9 441.0,261.2 441.4,259.5 C441.9,257.8 441.9,257.5 440.9,256.1 C439.9,254.8 438.9,255.2 437.0,253.7 C435.2,252.2 434.3,251.9 433.2,249.8 C432.0,247.8 432.2,247.1 432.2,245.0 C432.2,242.9 432.8,242.5 433.2,240.8 C433.5,239.2 433.4,239.1 433.7,237.9 C433.9,236.8 433.1,236.3 434.1,236.0Z" fill="#3C64E6" /><path d="M451.1,274.0 C451.4,273.2 452.5,272.0 453.5,271.6 C454.6,271.2 456.1,271.2 457.4,271.6 C458.7,272.0 460.0,273.0 461.3,274.0 C462.5,275.1 463.8,276.5 465.1,277.9 C466.4,279.4 467.7,281.3 469.0,282.8 C470.3,284.2 471.6,285.3 472.9,286.6 C474.2,287.9 475.6,289.2 476.7,290.5 C477.9,291.8 479.2,292.9 479.6,294.4 C480.1,295.8 480.5,299.2 479.6,299.2 C478.8,299.2 476.3,295.8 474.8,294.4 C473.4,292.9 472.4,291.8 470.9,290.5 C469.5,289.2 467.5,287.9 466.1,286.6 C464.6,285.3 463.5,284.1 462.2,282.8 C460.9,281.5 459.6,279.7 458.3,278.9 C457.1,278.1 455.6,278.3 454.5,277.9 C453.3,277.5 452.1,277.1 451.6,276.5 C451.0,275.8 450.8,274.9 451.1,274.0Z" fill="#789BF2" /><path d="M457.4,277.0 L460.3,277.4 L462.2,279.9 L459.3,278.9Z" fill="#B0E0E6" /><path d="M451.3,271.9 C451.8,271.5 453.0,271.1 453.7,271.5 C454.3,271.9 455.1,273.4 455.1,274.4 C455.1,275.3 454.3,276.9 453.7,277.3 C453.0,277.7 451.8,277.3 451.3,276.8 C450.7,276.3 450.6,275.2 450.6,274.4 C450.6,273.6 450.7,272.4 451.3,271.9Z" fill="#789BF2" /><path d="M445.8,237.0 C445.8,235.7 446.6,235.4 447.7,234.1 C448.8,232.7 449.2,232.7 450.6,231.2 C452.0,229.6 452.4,229.1 453.5,227.3 C454.6,225.5 454.8,225.4 455.4,223.4 C456.1,221.4 455.7,220.6 456.4,218.6 C457.1,216.5 457.0,216.3 458.3,214.7 C459.7,213.1 460.4,213.1 462.2,211.8 C464.0,210.4 464.3,210.1 466.1,208.9 C467.9,207.6 468.2,207.3 470.0,206.5 C471.8,205.7 472.0,205.6 473.8,205.5 C475.7,205.4 475.9,205.5 478.0,206.0 C480.1,206.4 480.6,206.8 482.8,207.4 C485.1,208.1 485.4,208.1 487.7,208.9 C489.9,209.7 490.0,210.0 492.5,210.8 C495.0,211.6 495.8,211.7 498.3,212.3 C500.8,212.8 500.9,212.7 503.2,213.2 C505.4,213.8 505.8,214.0 508.0,214.7 C510.3,215.4 510.6,215.5 512.9,216.1 C515.1,216.8 515.7,216.9 517.7,217.6 C519.7,218.3 519.8,218.1 521.6,219.1 C523.4,220.0 524.1,220.0 525.4,221.5 C526.8,222.9 526.9,223.5 527.4,225.3 C527.8,227.2 527.8,227.4 527.4,229.2 C526.9,231.0 526.2,231.3 525.4,233.1 C524.7,234.9 524.0,235.2 524.0,237.0 C524.0,238.8 524.2,238.3 525.4,240.8 C526.7,243.4 527.5,245.4 529.3,247.9 C531.1,250.5 531.6,249.5 533.2,251.8 C534.8,254.0 535.0,254.6 536.1,257.6 C537.2,260.5 537.3,261.2 538.0,264.4 C538.7,267.5 538.7,268.2 539.0,271.1 C539.3,274.1 539.6,274.2 539.5,277.0 C539.4,279.7 539.3,280.3 538.5,282.8 C537.7,285.2 537.3,285.3 536.1,287.6 C534.8,289.9 534.4,290.2 533.2,292.4 C531.9,294.7 531.9,295.0 530.8,297.3 C529.6,299.5 529.5,299.6 528.3,302.1 C527.2,304.6 526.7,305.7 525.9,307.9 C525.2,310.2 525.9,309.9 525.2,311.8 C524.4,313.7 524.2,314.3 522.8,316.1 C521.3,317.9 520.9,318.2 518.9,319.5 C516.9,320.9 516.5,320.9 514.0,322.0 C511.6,323.0 511.1,322.9 508.2,323.9 C505.3,324.9 504.3,325.5 501.6,326.1 C498.9,326.8 498.8,327.0 496.7,326.6 C494.7,326.3 494.4,325.9 492.9,324.7 C491.3,323.4 491.2,323.2 490.0,321.3 C488.7,319.4 488.4,318.9 487.5,316.5 C486.6,314.0 486.6,313.4 486.1,310.7 C485.5,307.9 485.4,307.3 485.1,304.8 C484.8,302.4 486.6,303.8 484.6,300.0 C482.7,296.2 479.5,292.1 476.7,288.6 C474.0,285.0 474.7,286.7 472.9,284.7 C471.1,282.7 470.8,282.1 469.0,279.9 C467.2,277.6 466.9,277.0 465.1,275.0 C463.3,273.0 463.1,272.5 461.3,271.1 C459.4,269.8 459.2,270.1 457.4,269.2 C455.6,268.3 455.0,268.6 453.5,267.3 C452.0,265.9 451.9,265.7 451.1,263.4 C450.3,261.1 450.3,260.5 450.1,257.6 C449.9,254.6 450.0,253.7 450.1,250.8 C450.2,247.9 449.7,247.1 450.6,245.0 C451.5,242.9 453.8,242.8 454.0,241.8 C454.2,240.8 453.0,241.4 451.6,240.8 C450.1,240.3 449.1,240.3 447.7,239.4 C446.3,238.5 445.8,238.2 445.8,237.0Z" fill="#0000C8" /><path d="M437.0,286.6 C437.3,285.6 438.0,284.1 439.0,283.2 C440.0,282.4 441.4,281.6 442.9,281.3 C444.3,281.0 446.1,281.1 447.7,281.3 C449.3,281.5 451.2,281.9 452.5,282.3 C453.9,282.7 455.0,282.8 455.9,283.7 C456.9,284.6 457.5,286.3 458.3,287.6 C459.2,288.9 459.9,290.2 460.8,291.5 C461.7,292.8 463.0,294.1 463.7,295.3 C464.3,296.6 464.9,298.2 464.6,299.2 C464.4,300.3 463.4,301.2 462.2,301.6 C461.0,302.1 459.0,302.3 457.4,302.1 C455.8,302.0 454.0,301.3 452.5,300.7 C451.1,300.0 450.0,299.1 448.7,298.3 C447.4,297.4 446.1,296.3 444.8,295.3 C443.5,294.4 442.1,293.4 440.9,292.4 C439.7,291.5 438.2,290.5 437.5,289.5 C436.9,288.6 436.8,287.7 437.0,286.6Z" fill="#0000C8" /><path d="M455.4,232.6 C455.2,231.3 456.0,230.9 456.4,229.2 C456.9,227.5 456.9,227.4 457.4,225.3 C457.8,223.3 457.9,222.5 458.3,220.5 C458.8,218.5 458.2,218.1 459.3,216.6 C460.4,215.2 461.4,215.3 463.2,214.2 C465.0,213.1 465.5,212.9 467.1,211.8 C468.6,210.7 468.4,210.2 470.0,209.4 C471.5,208.6 472.0,208.3 473.8,208.4 C475.7,208.5 475.9,209.2 478.0,209.9 C480.1,210.5 480.6,210.5 482.8,211.3 C485.1,212.1 485.4,212.3 487.7,213.2 C489.9,214.1 490.0,214.4 492.5,215.2 C495.0,216.0 495.8,216.1 498.3,216.6 C500.8,217.2 500.9,217.3 503.2,217.6 C505.4,217.9 505.8,217.7 508.0,218.1 C510.3,218.4 510.6,218.6 512.9,219.1 C515.1,219.5 515.8,219.5 517.7,220.0 C519.6,220.6 519.7,220.6 521.1,221.5 C522.4,222.4 523.1,222.5 523.5,223.9 C524.0,225.2 523.7,225.6 523.0,227.3 C522.3,229.0 521.7,229.3 520.6,231.2 C519.5,233.0 518.7,233.2 518.2,235.0 C517.6,236.8 517.8,237.1 518.2,238.9 C518.5,240.7 517.9,240.6 519.6,242.8 C521.3,245.0 523.2,246.1 525.4,248.4 C527.7,250.7 527.8,250.4 529.3,252.7 C530.8,255.1 530.7,255.8 531.7,258.6 C532.8,261.3 532.9,261.7 533.7,264.4 C534.5,267.1 534.7,267.5 535.1,270.2 C535.6,272.9 535.7,273.3 535.6,276.0 C535.5,278.7 535.5,279.1 534.6,281.8 C533.7,284.5 533.1,284.9 531.7,287.6 C530.4,290.3 530.2,290.7 528.8,293.4 C527.5,296.1 527.3,296.5 525.9,299.2 C524.6,301.9 523.8,303.3 523.0,305.0 C522.3,306.7 523.3,305.0 522.8,306.5 C522.2,307.9 522.0,309.2 520.8,311.3 C519.7,313.4 519.7,314.1 517.9,315.7 C516.1,317.2 515.8,317.1 513.1,318.1 C510.4,319.1 509.1,319.0 506.4,319.8 C503.7,320.7 503.6,321.1 501.6,321.8 C499.5,322.5 499.3,323.0 497.7,322.8 C496.1,322.5 496.0,322.3 494.8,320.8 C493.5,319.3 493.3,318.8 492.4,316.5 C491.5,314.1 491.5,313.4 490.9,310.7 C490.4,307.9 490.3,307.3 490.0,304.8 C489.6,302.4 492.3,304.9 489.5,300.0 C486.7,295.1 481.6,288.4 478.0,283.7 C474.4,279.0 475.7,281.9 473.8,279.9 C472.0,277.8 471.8,277.3 470.0,275.0 C468.2,272.8 467.8,272.7 466.1,270.2 C464.4,267.7 463.9,267.3 462.7,264.4 C461.5,261.4 461.4,260.7 460.8,257.6 C460.1,254.4 460.1,253.7 459.8,250.8 C459.5,247.9 459.3,247.1 459.3,245.0 C459.3,242.9 459.8,243.5 459.8,241.8 C459.8,240.2 459.9,239.5 459.3,237.9 C458.7,236.4 458.3,236.3 457.4,235.0 C456.5,233.8 455.7,234.0 455.4,232.6Z" fill="#9370DB" /><path d="M385.3,215.2 L386.3,216.7 L387.2,220.4 L388.4,223.6 L390.3,226.7 L391.6,229.2 L391.9,231.7 L392.8,232.9 L395.3,233.5 L397.8,232.6 L400.9,232.3 L404.0,232.9 L407.1,233.5 L410.2,234.8 L413.3,236.3 L415.8,238.5 L418.3,241.0 L421.0,243.2 L423.2,248.3 L425.1,244.4 L428.0,242.0 L432.9,240.5 L438.0,238.6 L438.0,237.0 L440.9,233.1 L442.4,227.3 L443.8,220.5 L445.3,213.7 L448.7,207.9 L452.1,202.1 L451.6,200.7 L453.5,201.1 L454.0,199.2 L455.9,200.0 L456.4,198.0 L458.3,199.2 L459.3,197.5 L461.3,198.2 L461.7,196.5 L463.7,197.1 L464.3,199.2 L466.1,200.2 L470.0,197.8 L473.8,196.3 L478.0,196.1 L483.8,197.8 L488.7,199.7 L492.5,202.6 L497.4,203.1 L502.2,204.0 L506.1,204.0 L507.5,202.6 L508.5,204.0 L509.0,207.0 L510.4,210.3 L512.9,208.4 L516.7,207.9 L520.6,208.4 L523.5,210.8 L526.4,213.7 L527.4,215.2 L529.3,213.2 L533.2,213.2 L535.6,215.7 L536.1,219.5 L535.1,220.5 L535.6,225.3 L537.1,230.2 L538.5,234.1 L540.0,237.9 L537.1,239.9 L533.2,241.3 L531.7,242.8 L533.2,245.0 L533.8,245.8 L535.7,248.7 L539.6,250.7 L543.5,253.6 L546.4,256.5 L547.8,260.3 L548.8,266.2 L548.5,272.0 L547.8,277.8 L549.0,280.0 L549.5,284.8 L547.0,288.7 L544.1,292.6 L543.7,295.5 L545.6,297.4 L545.1,299.8 L541.2,302.3 L537.8,305.7 L535.9,309.0 L535.9,311.0 L533.5,313.9 L533.0,316.8 L529.6,317.3 L528.7,318.7 L530.6,320.7 L528.7,323.1 L524.8,325.5 L520.9,327.4 L518.0,329.9 L516.1,330.5 L513.7,331.2 L511.3,332.1 L509.3,330.8 L507.4,331.2 L505.4,332.4 L503.5,332.1 L501.6,333.4 L499.6,334.4 L498.2,333.2 L496.7,333.4 L494.8,334.6 L491.9,334.1 L489.0,333.9 L487.5,331.5 L486.6,330.8 L485.6,332.4 L483.2,333.4 L481.2,332.9 L477.4,331.0 L475.9,328.1 L476.4,325.2 L478.3,323.2 L479.3,320.3 L480.3,316.5 L478.8,312.6 L477.4,308.7 L475.9,305.8 L477.8,302.9 L478.3,300.0 L478.0,299.2 L475.8,293.4 L471.9,289.5 L468.0,287.6 L465.1,285.7 L461.3,282.8 L458.3,279.9 L456.4,280.3 L455.9,283.7 L454.5,288.6 L453.0,292.4 L449.6,292.9 L447.7,293.4 L447.9,293.2 L448.8,297.6 L449.3,302.4 L449.8,307.3 L447.4,307.8 L445.0,304.4 L441.1,305.3 L439.2,307.3 L434.3,305.8 L429.5,304.4 L427.1,301.5 L425.6,296.1 L421.7,297.1 L415.9,296.6 L415.3,295.0 L414.7,292.9 L415.3,291.7 L417.2,291.1 L418.4,289.2 L417.8,286.7 L415.9,284.9 L414.0,285.5 L412.5,284.5 L413.4,283.9 L415.3,283.0 L414.7,281.1 L413.4,279.3 L412.2,277.4 L412.8,275.8 L410.3,276.8 L407.8,277.4 L406.3,278.6 L406.0,276.8 L407.2,274.9 L407.8,273.0 L406.3,273.0 L405.3,274.9 L404.1,276.8 L402.2,277.4 L402.8,275.5 L402.2,273.0 L403.8,271.8 L404.7,267.4 L405.3,262.4 L406.0,258.1 L406.9,254.7 L405.3,252.5 L406.6,250.0 L406.8,251.6 L408.4,250.9 L409.6,249.7 L410.2,246.6 L409.9,243.5 L408.4,241.9 L407.1,241.6 L404.6,240.7 L402.1,241.0 L399.7,241.9 L397.2,242.5 L395.0,242.2 L395.3,241.3 L397.2,240.7 L399.0,240.4 L398.1,238.5 L396.5,236.6 L394.7,234.8 L392.8,234.1 L391.6,235.4 L391.2,237.3 L390.3,236.6 L390.0,234.8 L389.1,232.3 L387.5,229.2 L386.0,226.7 L384.1,226.0 L383.8,223.6 L384.4,220.4 L384.7,216.1 L385.3,215.2" fill="none" stroke="#000" stroke-width="1.0" stroke-linejoin="round" /><path d="M408.7,246.0 L408.1,248.5 L405.9,249.4 L403.4,250.3 L401.2,250.3 L400.9,247.8 L401.5,245.3 L400.6,243.8" fill="none" stroke="#000" stroke-width="1.0" stroke-linejoin="round" /><path d="M406.5,242.9 L407.4,245.3 L407.1,248.5" fill="none" stroke="#000" stroke-width="1.0" stroke-linejoin="round" /><path d="M396.5,247.2 L397.8,246.3 L399.0,247.5 L398.1,248.8 L396.9,248.5 L396.5,247.2" fill="none" stroke="#000" stroke-width="1.0" stroke-linejoin="round" /><path d="M380.7,212.4 L380.4,215.5 L380.7,218.6" fill="none" stroke="#000" stroke-width="1.0" stroke-linejoin="round" /><path d="M386.9,211.4 L386.0,213.6 L386.9,216.1 L388.4,217.3 L387.8,214.8 L386.9,211.4" fill="none" stroke="#000" stroke-width="1.0" stroke-linejoin="round" /><path d="M384.1,223.6 L385.3,224.2 L385.0,226.0" fill="none" stroke="#000" stroke-width="1.0" stroke-linejoin="round" /><path d="M390.0,234.8 L390.9,233.5 L392.2,232.9" fill="none" stroke="#000" stroke-width="1.0" stroke-linejoin="round" /><path d="M388.7,192.1 L390.8,191.7 L389.9,193.2 L388.7,192.1" fill="none" stroke="#000" stroke-width="1.0" stroke-linejoin="round" /><path d="M453.5,300.2 L455.0,299.2 L455.4,302.1 L454.0,304.1 L453.0,302.1 L453.5,300.2" fill="none" stroke="#000" stroke-width="1.0" stroke-linejoin="round" /><path d="M474.0,309.2 L475.9,308.7 L476.4,310.2 L474.5,310.5 L474.0,309.2" fill="none" stroke="#000" stroke-width="1.0" stroke-linejoin="round" /></g><circle cx="466" cy="266" r="126.5" fill="none" stroke="#000" stroke-width="0.9"/>
<clipPath id="c3"><circle cx="337" cy="675.5" r="126.7"/></clipPath><g clip-path="url(#c3)"><circle cx="337" cy="675.5" r="127.7" fill="#94BE32"/><path d="M254.9,581.1 C258.4,583.2 259.4,580.4 261.8,580.5 C264.1,580.6 265.0,580.9 266.8,581.7 C268.5,582.6 269.5,583.1 270.5,584.8 C271.5,586.6 272.7,589.3 271.7,590.4 C270.7,591.6 268.0,590.2 265.5,590.4 C263.0,590.7 261.8,591.1 259.3,591.7 C256.8,592.3 255.3,592.6 253.1,593.5 C250.8,594.5 249.7,595.2 248.1,596.7 C246.5,598.2 245.9,598.9 245.0,601.0 C244.0,603.1 243.5,604.9 243.3,607.2 C243.2,609.6 243.6,610.9 244.3,612.8 C245.0,614.8 245.6,616.0 246.8,617.2 C248.1,618.4 248.6,618.8 250.6,619.1 C252.6,619.3 254.6,618.9 256.8,618.4 C259.0,617.9 259.8,617.4 261.8,616.6 C263.8,615.7 264.8,615.2 266.8,614.1 C268.7,613.0 270.0,612.6 271.7,611.0 C273.5,609.4 274.2,608.0 275.5,606.0 C276.7,604.0 276.7,603.0 278.0,601.0 C279.2,599.0 279.9,597.7 281.7,596.0 C283.4,594.4 284.7,593.9 286.7,592.9 C288.7,591.9 289.9,592.1 291.6,591.1 C293.4,590.1 294.3,589.2 295.4,587.9 C296.5,586.7 295.9,586.7 297.0,584.8 C298.1,583.0 299.2,581.0 300.7,578.6 C302.2,576.2 302.7,574.5 304.5,573.0 C306.2,571.5 307.6,571.0 309.4,571.1 C311.3,571.3 312.4,572.3 313.8,573.6 C315.2,575.0 316.2,576.2 316.3,578.0 C316.4,579.7 315.0,580.5 314.4,582.3 C313.8,584.2 312.9,585.3 313.2,587.3 C313.4,589.3 315.2,590.3 315.7,592.3 C316.2,594.3 316.2,595.0 315.7,597.3 C315.2,599.5 314.2,601.0 313.2,603.5 C312.2,606.0 311.9,607.2 310.7,609.7 C309.4,612.2 308.3,613.7 307.0,616.0 C305.6,618.2 304.7,618.9 303.8,620.9 C303.0,622.9 302.7,623.7 302.6,625.9 C302.5,628.2 302.9,630.3 303.2,632.1 C303.6,634.0 303.8,634.6 304.5,635.0 C305.2,635.4 305.7,633.8 306.7,634.2 C307.7,634.6 308.4,635.9 309.6,637.1 C310.8,638.3 311.3,638.9 312.5,640.0 C313.7,641.2 314.1,641.8 315.4,642.9 C316.8,644.1 317.7,644.6 319.3,645.8 C320.8,647.1 321.6,647.8 323.2,649.2 C324.7,650.7 325.5,651.4 327.0,653.1 C328.6,654.7 329.4,656.0 330.9,657.4 C332.4,658.9 333.6,659.4 334.8,660.3 C336.0,661.3 335.8,662.2 337.0,662.1 C338.1,662.0 339.1,660.6 340.6,659.9 C342.0,659.1 342.3,658.9 344.3,658.4 C346.3,657.9 348.0,658.1 350.5,657.4 C353.0,656.7 354.8,655.7 356.8,654.9 C358.7,654.1 359.2,653.3 360.5,653.4 C361.7,653.5 362.5,654.1 363.0,655.5 C363.5,657.0 363.3,658.4 363.0,660.5 C362.6,662.6 361.9,663.9 361.1,666.1 C360.4,668.4 360.4,669.7 359.2,671.7 C358.1,673.7 357.1,674.9 355.5,676.1 C353.9,677.2 352.8,677.7 351.1,677.6 C349.5,677.4 348.9,676.5 347.4,675.5 C345.9,674.4 345.2,673.3 343.7,672.3 C342.2,671.3 341.2,671.3 339.9,670.5 C338.7,669.7 338.6,669.0 337.5,668.4 C336.3,667.7 335.7,667.3 334.3,667.1 C333.0,667.0 331.7,667.1 330.6,667.6 C329.6,668.2 329.6,668.9 329.1,669.9 C328.6,670.8 329.2,671.5 328.1,672.3 C327.0,673.2 325.8,674.0 323.8,674.2 C321.8,674.5 320.5,674.1 318.2,673.6 C315.8,673.1 314.2,672.7 311.9,671.7 C309.7,670.7 308.7,670.0 307.0,668.6 C305.2,667.2 304.2,666.4 303.2,664.9 C302.2,663.4 301.9,662.9 302.0,661.1 C302.1,659.4 303.2,658.2 303.8,656.2 C304.5,654.2 304.9,652.7 305.1,651.2 C305.3,649.7 305.6,649.6 304.8,648.7 C303.9,647.8 302.4,647.8 300.9,646.8 C299.3,645.8 298.4,645.0 297.0,643.9 C295.7,642.7 294.5,642.1 294.1,641.0 C293.7,639.8 294.3,639.4 295.1,638.1 C295.9,636.7 298.1,634.4 298.0,634.2 C297.9,634.0 295.9,635.9 294.6,637.1 C293.3,638.3 292.4,638.7 291.7,640.0 C291.0,641.4 291.1,642.3 291.2,643.9 C291.3,645.4 292.0,646.2 292.0,647.8 C292.0,649.3 292.3,650.9 291.2,651.6 C290.1,652.4 288.3,651.5 286.4,651.4 C284.4,651.3 282.7,651.2 281.5,651.1 C280.4,651.1 281.2,650.7 280.6,651.2 C280.0,651.7 279.2,652.3 278.6,653.7 C277.9,655.0 277.3,656.2 277.3,658.0 C277.3,659.9 277.7,661.6 278.6,663.0 C279.4,664.5 280.7,664.1 281.7,665.2 C282.7,666.4 283.8,667.2 283.6,668.6 C283.3,670.0 281.9,671.0 280.4,672.1 C279.0,673.2 277.8,674.0 276.1,674.2 C274.3,674.5 273.6,674.1 271.7,673.3 C269.9,672.6 268.7,671.8 266.8,670.5 C264.8,669.2 263.8,667.9 261.8,666.7 C259.8,665.6 259.0,665.1 256.8,664.9 C254.6,664.6 252.8,664.9 250.6,665.5 C248.3,666.1 247.1,666.9 245.6,668.0 C244.1,669.1 243.3,670.0 243.1,671.1 C242.9,672.2 243.5,672.6 244.3,673.6 C245.2,674.6 246.7,674.8 247.5,676.1 C248.2,677.3 248.5,678.1 248.1,679.8 C247.7,681.6 246.7,682.8 245.6,684.8 C244.5,686.8 243.6,687.8 242.5,689.8 C241.4,691.8 240.9,692.8 240.0,694.8 C239.1,696.7 238.7,697.7 238.1,699.7 C237.5,701.7 237.5,702.7 236.9,704.7 C236.3,706.7 235.5,707.7 235.0,709.7 C234.5,711.7 234.0,712.7 234.4,714.7 C234.8,716.7 235.5,718.2 236.9,719.6 C238.2,721.1 239.2,721.2 241.2,722.1 C243.2,723.1 245.0,723.8 246.8,724.4 C248.7,725.0 248.6,724.4 250.6,725.0 C252.6,725.6 254.8,726.2 256.8,727.5 C258.8,728.7 259.4,729.5 260.5,731.2 C261.6,733.0 262.1,734.1 262.4,736.2 C262.6,738.3 262.9,740.3 261.8,741.8 C260.7,743.3 258.5,743.3 256.8,743.7 C255.0,744.0 254.2,742.8 253.1,743.7 C251.9,744.5 251.2,746.0 251.2,748.0 C251.2,750.0 252.4,751.0 253.1,753.6 C253.7,756.2 253.9,758.4 254.3,761.1 C254.7,763.8 254.8,765.2 254.9,767.3 C255.0,769.4 255.5,769.7 254.9,771.7 C254.3,773.7 258.9,781.6 251.8,777.3 C244.7,772.9 229.9,768.4 219.4,749.9 C209.0,731.4 203.5,707.8 199.5,684.8 C195.5,661.8 199.0,653.0 199.5,635.0 C200.0,617.0 193.1,607.8 202.0,594.8 C211.0,581.8 233.8,572.6 244.3,569.9 C254.9,567.2 251.4,579.0 254.9,581.1Z" fill="#F5E6BE" /><path d="M236.3,675.1 L241.2,674.6 L240.6,676.1 L237.5,676.7Z" fill="#94BE32" /><path d="M272.4,653.7 C273.1,652.9 275.4,652.4 276.7,652.4 C278.1,652.4 279.7,652.8 280.4,653.7 C281.2,654.5 281.5,656.5 281.1,657.4 C280.7,658.3 279.1,659.0 278.0,659.3 C276.8,659.6 275.2,659.7 274.2,659.3 C273.3,658.9 272.7,657.7 272.4,656.8 C272.0,655.9 271.6,654.4 272.4,653.7Z" fill="#94BE32" /><path d="M342.4,556.2 C343.1,555.2 345.4,554.1 346.8,554.3 C348.1,554.5 349.3,556.2 350.5,557.4 C351.8,558.7 353.0,560.6 354.3,561.8 C355.5,563.0 356.3,564.1 358.0,564.9 C359.7,565.7 362.4,566.0 364.2,566.8 C366.1,567.6 368.0,568.7 369.2,569.9 C370.4,571.1 371.6,572.7 371.7,574.3 C371.8,575.8 370.8,578.0 369.8,579.2 C368.9,580.5 367.5,581.4 366.1,581.7 C364.6,582.0 362.7,581.7 361.1,581.1 C359.6,580.5 358.3,579.1 356.8,578.0 C355.2,576.8 353.1,575.6 351.8,574.3 C350.4,572.9 349.6,571.5 348.7,569.9 C347.7,568.3 347.1,566.5 346.2,564.9 C345.2,563.4 343.7,562.0 343.1,560.6 C342.4,559.1 341.8,557.2 342.4,556.2Z" fill="#F5E6BE" /><path d="M373.0,639.0 C373.2,637.2 374.3,634.3 376.0,633.0 C377.7,631.7 380.7,631.2 383.0,631.0 C385.3,630.8 387.9,631.0 390.0,632.0 C392.1,633.0 394.7,635.3 395.5,637.0 C396.3,638.7 395.8,640.7 395.0,642.0 C394.2,643.3 392.3,644.2 391.0,645.0 C389.7,645.8 388.8,646.6 387.0,647.0 C385.2,647.4 382.0,648.0 380.0,647.5 C378.0,647.0 376.2,645.4 375.0,644.0 C373.8,642.6 372.8,640.8 373.0,639.0Z" fill="#F5E6BE" /><path d="M358.5,631.5 C358.5,630.8 360.2,630.6 361.0,631.0 C361.8,631.4 363.0,633.2 363.0,634.0 C363.0,634.8 361.8,635.9 361.0,635.5 C360.2,635.1 358.5,632.2 358.5,631.5Z" fill="#F5E6BE" /><path d="M420.0,581.7 C414.0,584.0 419.4,585.0 419.4,587.3 C419.4,589.7 419.4,591.1 420.0,593.5 C420.6,596.0 421.1,597.4 422.5,599.8 C423.8,602.1 425.0,603.5 426.8,605.4 C428.7,607.2 430.4,607.2 431.8,609.1 C433.2,611.0 433.2,612.1 433.7,614.7 C434.2,617.3 434.1,619.2 434.3,622.2 C434.6,625.2 435.7,627.8 434.9,629.6 C434.2,631.5 432.7,631.0 430.6,631.5 C428.5,632.0 426.8,631.8 424.3,632.1 C421.9,632.5 419.5,632.8 418.1,633.4 C416.8,634.0 417.2,633.7 417.5,635.0 C417.7,636.3 418.2,637.9 419.4,640.0 C420.5,642.1 421.7,643.3 423.1,645.6 C424.5,647.8 425.3,648.9 426.2,651.2 C427.1,653.4 426.7,654.7 427.5,656.8 C428.2,658.9 429.0,659.9 429.9,661.8 C430.9,663.6 431.8,664.4 432.4,666.1 C433.1,667.9 433.6,668.6 433.1,670.5 C432.6,672.3 431.4,675.0 429.9,675.5 C428.5,676.0 427.5,674.1 425.6,673.0 C423.7,671.8 421.9,670.9 420.6,669.9 C419.4,668.9 420.6,669.6 419.4,668.0 C418.1,666.4 416.6,663.3 414.4,661.8 C412.1,660.3 410.7,660.6 408.2,660.5 C405.7,660.4 403.8,660.4 401.9,661.1 C400.1,661.9 398.8,663.0 398.8,664.3 C398.8,665.5 400.3,666.1 401.9,667.4 C403.6,668.6 405.2,669.0 406.9,670.5 C408.7,672.0 409.2,673.2 410.7,674.8 C412.1,676.5 413.1,677.0 414.4,678.6 C415.6,680.2 416.3,681.4 416.9,682.9 C417.5,684.4 418.1,685.3 417.5,686.0 C416.9,686.8 415.1,687.2 413.8,686.7 C412.4,686.2 411.8,684.8 410.7,683.5 C409.5,682.3 409.7,681.1 408.2,680.4 C406.7,679.8 405.4,680.1 403.2,680.4 C400.9,680.8 399.2,681.4 397.0,682.3 C394.7,683.2 394.0,683.5 392.0,684.8 C390.0,686.0 388.8,683.5 387.0,688.5 C385.2,693.5 384.7,704.2 382.9,709.7 C381.1,715.2 379.5,713.7 377.9,715.9 C376.3,718.2 375.7,719.1 374.8,720.9 C373.9,722.6 374.8,723.7 373.2,724.6 C371.6,725.6 370.0,725.5 366.7,725.6 C363.4,725.7 360.7,725.1 356.8,725.1 C352.8,725.1 350.0,725.7 346.8,725.6 C343.6,725.6 342.3,725.4 340.8,724.9 C339.3,724.3 340.6,723.6 339.3,722.8 C338.0,722.0 336.3,721.0 334.3,720.9 C332.4,720.8 331.0,721.3 329.4,722.1 C327.7,723.0 327.7,723.9 326.3,725.0 C324.8,726.1 323.5,726.2 321.9,727.5 C320.3,728.7 319.7,729.6 318.2,731.2 C316.7,732.8 316.2,734.5 314.4,735.6 C312.7,736.7 311.2,737.1 309.4,736.8 C307.7,736.6 307.2,735.3 305.7,734.3 C304.2,733.3 303.7,732.0 302.0,731.8 C300.2,731.7 298.6,733.0 297.0,733.7 C295.4,734.5 295.6,735.1 294.1,735.6 C292.7,736.1 291.3,737.0 289.8,736.2 C288.3,735.5 288.3,733.1 286.7,731.8 C285.0,730.6 283.9,730.0 281.7,730.0 C279.4,730.0 277.7,730.6 275.5,731.8 C273.2,733.1 272.0,734.3 270.5,736.2 C269.0,738.1 268.4,739.3 268.0,741.2 C267.6,743.0 267.6,743.8 268.6,745.5 C269.6,747.3 271.4,748.0 273.0,749.9 C274.6,751.8 275.7,752.4 276.7,754.9 C277.7,757.4 278.0,759.6 278.0,762.3 C278.0,765.1 277.5,766.1 276.7,768.6 C276.0,771.1 274.6,772.3 274.2,774.8 C273.8,777.3 274.0,778.5 274.8,781.0 C275.7,783.5 278.2,784.5 278.6,787.2 C279.0,790.0 265.6,788.2 276.7,794.7 C287.9,801.2 304.8,819.6 334.3,819.6 C363.9,819.6 395.8,808.7 424.3,794.7 C452.9,780.8 466.5,789.9 477.0,749.9 C487.5,709.9 482.6,629.5 477.0,594.8 C471.4,560.0 460.6,578.7 449.2,576.1 C437.8,573.5 426.0,579.5 420.0,581.7Z" fill="#F5E6BE" /><path d="M312.6,772.3 C313.1,770.9 315.8,771.3 318.2,770.4 C320.5,769.6 322.1,768.1 324.4,767.9 C326.6,767.8 327.6,768.6 329.4,769.8 C331.1,771.1 331.6,772.3 333.1,774.2 C334.6,776.0 335.1,777.5 336.8,779.1 C338.6,780.8 339.8,781.9 341.8,782.3 C343.8,782.6 345.0,781.8 346.8,781.0 C348.5,780.3 349.7,779.8 350.5,778.5 C351.4,777.3 351.5,776.3 351.1,774.8 C350.8,773.3 349.5,772.4 348.7,771.1 C347.8,769.7 346.7,769.1 346.8,767.9 C346.9,766.8 347.5,766.2 349.3,765.5 C351.0,764.7 352.8,764.5 355.5,764.2 C358.2,764.0 360.0,764.0 363.0,764.2 C366.0,764.5 367.7,765.2 370.4,765.5 C373.2,765.7 374.4,766.1 376.7,765.5 C378.9,764.8 379.6,763.7 381.6,762.3 C383.7,761.0 385.4,760.4 387.0,758.6 C388.6,756.9 388.0,755.6 389.5,753.6 C391.0,751.6 392.5,750.4 394.5,748.7 C396.5,746.9 397.5,746.7 399.4,744.9 C401.4,743.2 402.7,741.9 404.4,739.9 C406.2,737.9 407.0,737.0 408.2,735.0 C409.3,733.0 409.3,732.0 410.0,730.0 C410.8,728.0 410.5,726.6 411.9,725.0 C413.3,723.4 414.9,723.1 416.9,722.1 C418.9,721.2 419.9,721.0 421.9,720.3 C423.8,719.5 424.8,718.5 426.8,718.4 C428.8,718.3 430.2,719.1 431.8,719.6 C433.4,720.2 434.2,720.1 434.9,721.1 C435.7,722.2 435.2,723.0 435.5,725.0 C435.9,727.0 436.2,729.0 436.8,731.2 C437.4,733.5 438.0,734.3 438.7,736.2 C439.3,738.1 440.3,739.1 439.9,740.6 C439.5,742.1 437.9,742.3 436.8,743.7 C435.7,745.0 434.9,745.9 434.3,747.4 C433.8,748.9 433.6,750.2 434.1,751.1 C434.6,752.1 435.7,749.9 436.8,752.1 C437.8,754.4 442.0,758.6 439.3,762.3 C436.5,766.1 426.8,770.1 423.1,771.1 C419.4,772.1 421.6,768.6 420.6,767.3 C419.6,766.1 419.0,766.0 418.1,764.8 C417.2,763.7 417.1,762.7 416.3,761.7 C415.4,760.7 415.6,760.1 413.8,759.9 C411.9,759.6 409.5,760.0 406.9,760.5 C404.3,761.0 402.9,761.5 400.7,762.3 C398.5,763.2 397.5,763.7 395.7,764.8 C394.0,766.0 393.7,767.1 392.0,767.9 C390.2,768.7 389.1,767.7 387.0,768.8 C384.9,769.9 384.2,772.4 381.6,773.5 C379.1,774.7 376.9,774.0 374.2,774.8 C371.4,775.5 369.6,776.3 368.0,777.3 C366.3,778.3 365.8,778.3 366.1,779.8 C366.3,781.3 368.1,782.8 369.2,784.8 C370.3,786.7 370.8,788.1 371.7,789.7 C372.6,791.3 372.1,792.5 373.6,792.8 C375.0,793.2 377.5,791.5 379.2,791.6 C380.8,791.7 380.9,790.6 381.6,793.2 C382.4,795.8 396.1,801.4 382.9,804.7 C369.7,808.0 328.9,810.6 315.7,809.6 C302.5,808.7 316.3,802.4 316.9,799.7 C317.5,797.0 318.3,797.9 318.8,796.0 C319.3,794.0 319.5,792.2 319.4,789.7 C319.3,787.2 318.9,786.0 318.2,783.5 C317.4,781.0 316.8,779.5 315.7,777.3 C314.6,775.0 312.1,773.7 312.6,772.3Z" fill="#94BE32" /><path d="M220.6,629.0 C224.7,628.2 222.1,629.8 223.0,631.0 C223.8,632.1 224.0,633.4 224.9,634.9 C225.8,636.3 226.1,637.1 227.3,638.2 C228.6,639.4 229.5,640.0 231.2,640.7 C232.9,641.3 234.1,641.6 236.0,641.6 C238.0,641.6 239.0,641.1 240.9,640.7 C242.8,640.3 243.8,640.1 245.7,639.7 C247.7,639.3 248.8,639.2 250.6,638.7 C252.3,638.2 253.1,637.8 254.4,637.3 C255.8,636.8 256.0,636.6 257.3,636.3 C258.7,636.0 259.7,636.1 261.2,635.8 C262.8,635.5 263.5,635.4 265.1,634.9 C266.6,634.3 267.8,633.9 269.0,632.9 C270.1,632.0 270.4,631.3 270.9,630.0 C271.4,628.8 270.8,627.7 271.4,626.6 C272.0,625.6 272.7,625.2 273.8,624.7 C274.9,624.2 276.2,623.7 277.1,624.1 C278.0,624.5 278.0,625.5 278.2,626.6 C278.3,627.7 278.5,628.2 278.0,629.5 C277.4,630.8 275.5,631.9 275.4,633.1 C275.2,634.4 276.7,634.8 277.2,635.8 C277.7,636.9 278.2,637.4 278.0,638.4 C277.8,639.5 277.3,640.8 276.2,641.1 C275.2,641.5 274.5,640.7 272.8,640.2 C271.2,639.7 269.8,638.5 268.1,638.7 C266.3,638.9 265.9,640.1 264.1,641.1 C262.4,642.2 261.2,643.2 259.3,644.1 C257.3,644.9 255.3,643.9 254.4,645.5 C253.6,647.2 254.9,650.1 254.9,652.3 C254.9,654.5 255.3,655.9 254.4,656.6 C253.6,657.4 252.3,656.3 250.6,656.2 C248.8,656.1 247.7,656.3 245.7,656.2 C243.8,656.1 242.6,656.1 240.9,655.7 C239.1,655.3 238.4,655.1 237.0,654.2 C235.7,653.3 235.3,652.1 234.1,651.3 C232.9,650.5 232.7,650.3 231.2,650.3 C229.8,650.3 228.1,650.5 226.8,651.3 C225.6,652.1 225.4,652.5 224.9,654.2 C224.4,656.0 224.5,657.7 224.4,660.0 C224.3,662.4 224.3,663.8 224.4,665.8 C224.5,667.8 224.9,668.4 224.9,670.0 C224.9,671.6 225.3,671.9 224.4,673.6 C223.6,675.3 222.2,676.8 220.7,678.6 C219.2,680.3 218.5,680.9 217.0,682.3 C215.5,683.7 214.5,684.5 213.2,685.4 C212.0,686.4 213.0,687.7 210.7,687.0 C208.5,686.4 203.8,692.7 202.0,682.3 C200.3,671.9 198.3,645.7 202.0,635.0 C205.7,624.3 216.4,629.8 220.6,629.0Z" fill="#DEB887" /><path d="M446.1,612.8 C442.9,613.6 445.4,616.3 445.5,618.4 C445.6,620.6 446.8,621.2 446.8,623.4 C446.8,625.7 446.0,627.3 445.5,629.6 C445.0,632.0 445.3,632.9 444.3,635.0 C443.3,637.1 441.6,638.1 440.5,640.0 C439.4,641.8 438.7,642.3 438.7,644.3 C438.7,646.3 439.4,647.6 440.5,649.9 C441.6,652.3 443.3,653.7 444.3,656.2 C445.3,658.7 445.5,659.6 445.5,662.4 C445.5,665.1 444.9,667.1 444.3,669.9 C443.6,672.6 442.9,673.6 442.4,676.1 C441.9,678.6 441.9,679.8 441.8,682.3 C441.6,684.8 441.4,686.0 441.8,688.5 C442.1,691.0 442.1,692.8 443.6,694.8 C445.1,696.7 447.4,696.7 449.2,698.5 C451.1,700.2 451.6,701.5 453.0,703.5 C454.3,705.5 454.8,707.6 456.1,708.4 C457.3,709.3 456.1,712.6 459.2,707.8 C462.3,703.1 469.2,699.4 471.6,684.8 C474.1,670.2 473.6,649.0 471.6,635.0 C469.7,621.0 466.8,619.1 461.7,614.7 C456.6,610.3 449.4,612.1 446.1,612.8Z" fill="#DEB887" /><path d="M345.5,739.3 C346.1,738.1 347.8,737.7 349.3,737.4 C350.7,737.2 352.6,737.4 354.3,738.1 C355.9,738.7 357.6,740.2 359.2,741.2 C360.9,742.1 362.4,743.3 364.2,743.7 C366.1,744.1 368.6,743.5 370.4,743.7 C372.3,743.9 374.3,744.0 375.4,744.9 C376.6,745.9 377.3,747.7 377.3,749.3 C377.3,750.8 376.6,753.0 375.4,754.3 C374.3,755.5 372.3,756.4 370.4,756.7 C368.6,757.1 366.3,756.5 364.2,756.1 C362.1,755.7 360.1,754.8 358.0,754.3 C355.9,753.7 353.4,753.7 351.8,753.0 C350.1,752.3 349.0,751.2 348.0,749.9 C347.1,748.5 346.6,746.7 346.2,744.9 C345.8,743.2 345.0,740.6 345.5,739.3Z" fill="#DEB887" /><path d="M381.6,737.4 C381.9,736.6 383.2,735.6 384.1,735.0 C385.0,734.3 385.9,734.0 387.0,733.5 C388.1,732.9 389.8,731.7 390.7,731.8 C391.7,732.0 392.4,733.4 392.6,734.3 C392.8,735.3 392.5,736.4 392.0,737.4 C391.5,738.5 390.3,739.9 389.5,740.6 C388.7,741.2 388.1,741.5 387.0,741.4 C385.9,741.4 383.8,740.9 382.9,740.2 C382.0,739.5 381.4,738.3 381.6,737.4Z" fill="#DEB887" /><path d="M364.8,614.1 C364.7,612.9 365.6,610.9 366.7,609.7 C367.9,608.6 369.8,607.8 371.7,607.2 C373.6,606.7 375.9,606.3 377.9,606.6 C379.9,606.9 382.4,608.1 383.5,609.1 C384.7,610.1 385.1,611.9 384.8,612.8 C384.4,613.8 383.0,614.4 381.6,614.7 C380.3,615.0 378.3,614.4 376.7,614.7 C375.0,615.0 373.2,616.3 371.7,616.6 C370.1,616.9 368.5,617.0 367.3,616.6 C366.2,616.2 364.9,615.2 364.8,614.1Z" fill="#BCEE68" /><path d="M278.5,680.2 C278.9,679.5 281.0,679.1 282.3,679.2 C283.6,679.3 285.1,679.9 286.2,680.7 C287.3,681.4 288.7,682.6 289.1,683.6 C289.5,684.5 289.2,686.1 288.6,686.5 C288.1,686.9 286.7,686.3 285.7,686.0 C284.8,685.7 283.8,685.0 282.8,684.5 C281.8,684.0 280.6,683.8 279.9,683.1 C279.2,682.3 278.1,680.8 278.5,680.2Z" fill="#BCEE68" /><path d="M282.3,703.9 C282.7,702.7 283.3,701.2 284.3,700.0 C285.2,698.8 286.9,697.5 288.1,696.6 C289.4,695.8 290.7,695.1 292.0,695.0 C293.3,694.8 294.6,695.0 295.9,695.7 C297.2,696.3 298.6,697.8 299.8,699.0 C300.9,700.3 301.5,701.6 302.7,702.9 C303.8,704.2 305.1,705.8 306.5,706.8 C308.0,707.8 310.0,707.9 311.4,708.7 C312.7,709.5 314.3,710.6 314.8,711.6 C315.3,712.7 315.0,714.2 314.3,715.0 C313.6,715.8 311.5,715.9 310.4,716.5 C309.3,717.0 308.8,717.8 307.5,718.4 C306.2,719.0 304.3,719.7 302.7,719.9 C301.1,720.0 299.3,719.9 297.8,719.4 C296.4,718.8 295.4,717.4 294.0,716.5 C292.5,715.5 290.6,714.5 289.1,713.6 C287.6,712.6 285.9,711.7 284.8,710.7 C283.6,709.6 282.7,708.4 282.3,707.3 C281.9,706.1 282.0,705.1 282.3,703.9Z" fill="#BCEE68" /><path d="M287.7,703.4 C288.1,702.4 289.1,701.4 290.1,700.5 C291.0,699.6 292.4,698.2 293.5,698.1 C294.5,698.0 295.4,699.1 296.4,700.0 C297.3,700.9 298.3,702.2 299.3,703.4 C300.2,704.6 301.2,706.0 302.2,707.3 C303.1,708.6 304.4,710.0 305.1,711.1 C305.8,712.3 306.9,713.6 306.5,714.1 C306.1,714.5 304.1,714.3 302.7,714.1 C301.2,713.8 299.4,713.1 297.8,712.6 C296.2,712.1 294.4,711.8 293.0,711.1 C291.5,710.5 290.1,709.5 289.1,708.7 C288.1,707.9 287.4,707.2 287.2,706.3 C286.9,705.4 287.2,704.4 287.7,703.4Z" fill="#20B2AA" /><path d="M324.9,686.0 C325.3,685.3 326.7,684.4 327.8,684.5 C329.0,684.6 331.0,685.8 332.0,686.5 C333.0,687.1 333.6,687.8 333.6,688.4 C333.6,689.0 332.8,689.7 332.0,689.8 C331.2,690.0 329.8,689.6 328.8,689.4 C327.8,689.1 326.5,689.0 325.9,688.4 C325.3,687.8 324.6,686.6 324.9,686.0Z" fill="#BCEE68" /><path d="M331.9,801.6 L337.5,796.0 L343.1,797.0 L348.0,797.8 L346.8,802.8Z" fill="#BCEE68" /><path d="M373.6,792.6 L379.8,791.3 L380.2,792.8 L374.2,793.5Z" fill="#BCEE68" /><path d="M294.7,638.5 L298.3,634.0 L299.1,635.3 L296.4,638.9Z" fill="#BCEE68" /><path d="M256.3,624.7 L257.3,626.2 L258.2,629.9 L259.4,633.1 L261.3,636.2 L262.6,638.7 L262.9,641.2 L263.8,642.4 L266.3,643.0 L268.8,642.1 L271.9,641.8 L275.0,642.4 L278.1,643.0 L281.2,644.3 L284.3,645.8 L286.8,648.0 L289.3,650.5 L292.0,652.7 L294.2,657.8 L296.1,653.9 L299.0,651.5 L303.9,650.0 L309.0,648.1 L309.0,646.5 L311.9,642.6 L313.4,636.8 L314.8,630.0 L316.3,623.2 L319.7,617.4 L323.1,611.6 L322.6,610.2 L324.5,610.6 L325.0,608.7 L326.9,609.5 L327.4,607.5 L329.3,608.7 L330.3,607.0 L332.3,607.7 L332.7,606.0 L334.7,606.6 L335.3,608.7 L337.1,609.7 L341.0,607.3 L344.8,605.8 L349.0,605.6 L354.8,607.3 L359.7,609.2 L363.5,612.1 L368.4,612.6 L373.2,613.5 L377.1,613.5 L378.5,612.1 L379.5,613.5 L380.0,616.5 L381.4,619.8 L383.9,617.9 L387.7,617.4 L391.6,617.9 L394.5,620.3 L397.4,623.2 L398.4,624.7 L400.3,622.7 L404.2,622.7 L406.6,625.2 L407.1,629.0 L406.1,630.0 L406.6,634.8 L408.1,639.7 L409.5,643.6 L411.0,647.4 L408.1,649.4 L404.2,650.8 L402.7,652.3 L404.2,654.5 L404.8,655.3 L406.7,658.2 L410.6,660.2 L414.5,663.1 L417.4,666.0 L418.8,669.8 L419.8,675.7 L419.5,681.5 L418.8,687.3 L420.0,689.5 L420.5,694.3 L418.0,698.2 L415.1,702.1 L414.7,705.0 L416.6,706.9 L416.1,709.3 L412.2,711.8 L408.8,715.2 L406.9,718.5 L406.9,720.5 L404.5,723.4 L404.0,726.3 L400.6,726.8 L399.7,728.2 L401.6,730.2 L399.7,732.6 L395.8,735.0 L391.9,736.9 L389.0,739.4 L387.1,740.0 L384.7,740.7 L382.3,741.6 L380.3,740.3 L378.4,740.7 L376.4,741.9 L374.5,741.6 L372.6,742.9 L370.6,743.9 L369.2,742.7 L367.7,742.9 L365.8,744.1 L362.9,743.6 L360.0,743.4 L358.5,741.0 L357.6,740.3 L356.6,741.9 L354.2,742.9 L352.2,742.4 L348.4,740.5 L346.9,737.6 L347.4,734.7 L349.3,732.7 L350.3,729.8 L351.3,726.0 L349.8,722.1 L348.4,718.2 L346.9,715.3 L348.8,712.4 L349.3,709.5 L349.0,708.7 L346.8,702.9 L342.9,699.0 L339.0,697.1 L336.1,695.2 L332.3,692.3 L329.3,689.4 L327.4,689.8 L326.9,693.2 L325.5,698.1 L324.0,701.9 L320.6,702.4 L318.7,702.9 L318.9,702.7 L319.8,707.1 L320.3,711.9 L320.8,716.8 L318.4,717.3 L316.0,713.9 L312.1,714.8 L310.2,716.8 L305.3,715.3 L300.5,713.9 L298.1,711.0 L296.6,705.6 L292.7,706.6 L286.9,706.1 L286.3,704.5 L285.7,702.4 L286.3,701.2 L288.2,700.6 L289.4,698.7 L288.8,696.2 L286.9,694.4 L285.0,695.0 L283.5,694.0 L284.4,693.4 L286.3,692.5 L285.7,690.6 L284.4,688.8 L283.2,686.9 L283.8,685.3 L281.3,686.3 L278.8,686.9 L277.3,688.1 L277.0,686.3 L278.2,684.4 L278.8,682.5 L277.3,682.5 L276.3,684.4 L275.1,686.3 L273.2,686.9 L273.8,685.0 L273.2,682.5 L274.8,681.3 L275.7,676.9 L276.3,671.9 L277.0,667.6 L277.9,664.2 L276.3,662.0 L277.6,659.5 L277.8,661.1 L279.4,660.4 L280.6,659.2 L281.2,656.1 L280.9,653.0 L279.4,651.4 L278.1,651.1 L275.6,650.2 L273.1,650.5 L270.7,651.4 L268.2,652.0 L266.0,651.7 L266.3,650.8 L268.2,650.2 L270.0,649.9 L269.1,648.0 L267.5,646.1 L265.7,644.3 L263.8,643.6 L262.6,644.9 L262.2,646.8 L261.3,646.1 L261.0,644.3 L260.1,641.8 L258.5,638.7 L257.0,636.2 L255.1,635.5 L254.8,633.1 L255.4,629.9 L255.7,625.6 L256.3,624.7" fill="none" stroke="#000" stroke-width="1.0" stroke-linejoin="round" /><path d="M279.7,655.5 L279.1,658.0 L276.9,658.9 L274.4,659.8 L272.2,659.8 L271.9,657.3 L272.5,654.8 L271.6,653.3" fill="none" stroke="#000" stroke-width="1.0" stroke-linejoin="round" /><path d="M277.5,652.4 L278.4,654.8 L278.1,658.0" fill="none" stroke="#000" stroke-width="1.0" stroke-linejoin="round" /><path d="M267.5,656.7 L268.8,655.8 L270.0,657.0 L269.1,658.3 L267.9,658.0 L267.5,656.7" fill="none" stroke="#000" stroke-width="1.0" stroke-linejoin="round" /><path d="M251.7,621.9 L251.4,625.0 L251.7,628.1" fill="none" stroke="#000" stroke-width="1.0" stroke-linejoin="round" /><path d="M257.9,620.9 L257.0,623.1 L257.9,625.6 L259.4,626.8 L258.8,624.3 L257.9,620.9" fill="none" stroke="#000" stroke-width="1.0" stroke-linejoin="round" /><path d="M255.1,633.1 L256.3,633.7 L256.0,635.5" fill="none" stroke="#000" stroke-width="1.0" stroke-linejoin="round" /><path d="M261.0,644.3 L261.9,643.0 L263.2,642.4" fill="none" stroke="#000" stroke-width="1.0" stroke-linejoin="round" /><path d="M259.7,601.6 L261.8,601.2 L260.9,602.7 L259.7,601.6" fill="none" stroke="#000" stroke-width="1.0" stroke-linejoin="round" /><path d="M324.5,709.7 L326.0,708.7 L326.4,711.6 L325.0,713.6 L324.0,711.6 L324.5,709.7" fill="none" stroke="#000" stroke-width="1.0" stroke-linejoin="round" /><path d="M345.0,718.7 L346.9,718.2 L347.4,719.7 L345.5,720.0 L345.0,718.7" fill="none" stroke="#000" stroke-width="1.0" stroke-linejoin="round" /></g><circle cx="337" cy="675.5" r="126.7" fill="none" stroke="#000" stroke-width="0.9"/>
<rect x="84.50" y="429.1" width="15.40" height="12.3" fill="#9370DB" stroke="#000" stroke-width="0.8"/><rect x="99.90" y="429.1" width="15.40" height="12.3" fill="#0000C8" stroke="#000" stroke-width="0.8"/><rect x="115.30" y="429.1" width="15.40" height="12.3" fill="#3C64E6" stroke="#000" stroke-width="0.8"/><rect x="130.70" y="429.1" width="15.40" height="12.3" fill="#789BF2" stroke="#000" stroke-width="0.8"/><rect x="146.10" y="429.1" width="15.40" height="12.3" fill="#B0E0E6" stroke="#000" stroke-width="0.8"/><rect x="161.50" y="429.1" width="15.40" height="12.3" fill="#20B2AA" stroke="#000" stroke-width="0.8"/><rect x="176.90" y="429.1" width="15.40" height="12.3" fill="#BCEE68" stroke="#000" stroke-width="0.8"/><rect x="192.30" y="429.1" width="15.40" height="12.3" fill="#94BE32" stroke="#000" stroke-width="0.8"/><rect x="207.70" y="429.1" width="15.40" height="12.3" fill="#F5E6BE" stroke="#000" stroke-width="0.8"/><rect x="223.10" y="429.1" width="15.40" height="12.3" fill="#DEB887" stroke="#000" stroke-width="0.8"/><rect x="238.50" y="429.1" width="15.40" height="12.3" fill="#FFE100" stroke="#000" stroke-width="0.8"/><rect x="253.90" y="429.1" width="15.40" height="12.3" fill="#FFA500" stroke="#000" stroke-width="0.8"/><rect x="269.30" y="429.1" width="15.40" height="12.3" fill="#FF4500" stroke="#000" stroke-width="0.8"/><rect x="284.70" y="429.1" width="15.40" height="12.3" fill="#B22222" stroke="#000" stroke-width="0.8"/><rect x="300.10" y="429.1" width="15.40" height="12.3" fill="#FFB6C1" stroke="#000" stroke-width="0.8"/><rect x="315.50" y="429.1" width="15.40" height="12.3" fill="#FF1493" stroke="#000" stroke-width="0.8"/>
<rect x="343.30" y="429.1" width="15.40" height="12.3" fill="#9370DB" stroke="#000" stroke-width="0.8"/><rect x="358.70" y="429.1" width="15.40" height="12.3" fill="#0000C8" stroke="#000" stroke-width="0.8"/><rect x="374.10" y="429.1" width="15.40" height="12.3" fill="#3C64E6" stroke="#000" stroke-width="0.8"/><rect x="389.50" y="429.1" width="15.40" height="12.3" fill="#789BF2" stroke="#000" stroke-width="0.8"/><rect x="404.90" y="429.1" width="15.40" height="12.3" fill="#B0E0E6" stroke="#000" stroke-width="0.8"/><rect x="420.30" y="429.1" width="15.40" height="12.3" fill="#20B2AA" stroke="#000" stroke-width="0.8"/><rect x="435.70" y="429.1" width="15.40" height="12.3" fill="#BCEE68" stroke="#000" stroke-width="0.8"/><rect x="451.10" y="429.1" width="15.40" height="12.3" fill="#94BE32" stroke="#000" stroke-width="0.8"/><rect x="466.50" y="429.1" width="15.40" height="12.3" fill="#F5E6BE" stroke="#000" stroke-width="0.8"/><rect x="481.90" y="429.1" width="15.40" height="12.3" fill="#DEB887" stroke="#000" stroke-width="0.8"/><rect x="497.30" y="429.1" width="15.40" height="12.3" fill="#FFE100" stroke="#000" stroke-width="0.8"/><rect x="512.70" y="429.1" width="15.40" height="12.3" fill="#FFA500" stroke="#000" stroke-width="0.8"/><rect x="528.10" y="429.1" width="15.40" height="12.3" fill="#FF4500" stroke="#000" stroke-width="0.8"/><rect x="543.50" y="429.1" width="15.40" height="12.3" fill="#B22222" stroke="#000" stroke-width="0.8"/><rect x="558.90" y="429.1" width="15.40" height="12.3" fill="#FFB6C1" stroke="#000" stroke-width="0.8"/><rect x="574.30" y="429.1" width="15.40" height="12.3" fill="#FF1493" stroke="#000" stroke-width="0.8"/>
<rect x="530.2" y="595.80" width="29.4" height="12.76" fill="#FF1493" stroke="#000" stroke-width="0.8"/><rect x="530.2" y="608.56" width="29.4" height="12.76" fill="#FFB6C1" stroke="#000" stroke-width="0.8"/><rect x="530.2" y="621.32" width="29.4" height="12.76" fill="#B22222" stroke="#000" stroke-width="0.8"/><rect x="530.2" y="634.09" width="29.4" height="12.76" fill="#FF4500" stroke="#000" stroke-width="0.8"/><rect x="530.2" y="646.85" width="29.4" height="12.76" fill="#FFA500" stroke="#000" stroke-width="0.8"/><rect x="530.2" y="659.61" width="29.4" height="12.76" fill="#FFE100" stroke="#000" stroke-width="0.8"/><rect x="530.2" y="672.38" width="29.4" height="12.76" fill="#DEB887" stroke="#000" stroke-width="0.8"/><rect x="530.2" y="685.14" width="29.4" height="12.76" fill="#F5E6BE" stroke="#000" stroke-width="0.8"/><rect x="530.2" y="697.90" width="29.4" height="12.76" fill="#94BE32" stroke="#000" stroke-width="0.8"/><rect x="530.2" y="710.66" width="29.4" height="12.76" fill="#BCEE68" stroke="#000" stroke-width="0.8"/><rect x="530.2" y="723.42" width="29.4" height="12.76" fill="#20B2AA" stroke="#000" stroke-width="0.8"/><rect x="530.2" y="736.19" width="29.4" height="12.76" fill="#B0E0E6" stroke="#000" stroke-width="0.8"/><rect x="530.2" y="748.95" width="29.4" height="12.76" fill="#789BF2" stroke="#000" stroke-width="0.8"/><rect x="530.2" y="761.71" width="29.4" height="12.76" fill="#3C64E6" stroke="#000" stroke-width="0.8"/><rect x="530.2" y="774.47" width="29.4" height="12.76" fill="#0000C8" stroke="#000" stroke-width="0.8"/><rect x="530.2" y="787.24" width="29.4" height="12.76" fill="#9370DB" stroke="#000" stroke-width="0.8"/>
<text x="87.6" y="420.8" font-size="10.7" text-anchor="start" class="st" textLength="37.4" lengthAdjust="spacing">MEAN=</text>
<text x="144.4" y="420.8" font-size="10.7" text-anchor="start" class="st" textLength="20.1" lengthAdjust="spacing">1.71</text>
<text x="178.9" y="420.8" font-size="10.7" text-anchor="start" class="st" textLength="25.2" lengthAdjust="spacing">Min=</text>
<text x="222.8" y="420.8" font-size="10.7" text-anchor="start" class="st" textLength="23.2" lengthAdjust="spacing">0.06</text>
<text x="258.8" y="420.8" font-size="10.7" text-anchor="start" class="st" textLength="28.5" lengthAdjust="spacing">Max=</text>
<text x="305.7" y="420.8" font-size="10.7" text-anchor="start" class="st" textLength="21.7" lengthAdjust="spacing">4.11</text>
<text x="346.4" y="420.8" font-size="10.7" text-anchor="start" class="st" textLength="37.4" lengthAdjust="spacing">MEAN=</text>
<text x="403.2" y="420.8" font-size="10.7" text-anchor="start" class="st" textLength="21.5" lengthAdjust="spacing">1.70</text>
<text x="437.7" y="420.8" font-size="10.7" text-anchor="start" class="st" textLength="25.2" lengthAdjust="spacing">Min=</text>
<text x="481.6" y="420.8" font-size="10.7" text-anchor="start" class="st" textLength="23.2" lengthAdjust="spacing">0.07</text>
<text x="517.6" y="420.8" font-size="10.7" text-anchor="start" class="st" textLength="28.5" lengthAdjust="spacing">Max=</text>
<text x="564.5" y="420.8" font-size="10.7" text-anchor="start" class="st" textLength="21.7" lengthAdjust="spacing">3.91</text>
<text x="100.2" y="456.1" font-size="10.8" text-anchor="middle" class="st" textLength="16.6" lengthAdjust="spacing">0.3</text>
<text x="131.0" y="456.1" font-size="10.8" text-anchor="middle" class="st" textLength="16.6" lengthAdjust="spacing">0.7</text>
<text x="161.8" y="456.1" font-size="10.8" text-anchor="middle" class="st" textLength="16.6" lengthAdjust="spacing">1.5</text>
<text x="192.6" y="456.1" font-size="10.8" text-anchor="middle" class="st" textLength="16.6" lengthAdjust="spacing">2.5</text>
<text x="223.4" y="456.1" font-size="10.8" text-anchor="middle" class="st" textLength="16.6" lengthAdjust="spacing">3.5</text>
<text x="254.2" y="456.1" font-size="10.8" text-anchor="middle" class="st" textLength="16.6" lengthAdjust="spacing">4.5</text>
<text x="285.0" y="456.1" font-size="10.8" text-anchor="middle" class="st">6</text>
<text x="315.8" y="456.1" font-size="10.8" text-anchor="middle" class="st">8</text>
<text x="359.0" y="456.1" font-size="10.8" text-anchor="middle" class="st" textLength="16.6" lengthAdjust="spacing">0.3</text>
<text x="389.8" y="456.1" font-size="10.8" text-anchor="middle" class="st" textLength="16.6" lengthAdjust="spacing">0.7</text>
<text x="420.6" y="456.1" font-size="10.8" text-anchor="middle" class="st" textLength="16.6" lengthAdjust="spacing">1.5</text>
<text x="451.4" y="456.1" font-size="10.8" text-anchor="middle" class="st" textLength="16.6" lengthAdjust="spacing">2.5</text>
<text x="482.2" y="456.1" font-size="10.8" text-anchor="middle" class="st" textLength="16.6" lengthAdjust="spacing">3.5</text>
<text x="513.0" y="456.1" font-size="10.8" text-anchor="middle" class="st" textLength="16.6" lengthAdjust="spacing">4.5</text>
<text x="543.8" y="456.1" font-size="10.8" text-anchor="middle" class="st">6</text>
<text x="574.6" y="456.1" font-size="10.8" text-anchor="middle" class="st">8</text>
<text x="478.0" y="574.2" font-size="11" text-anchor="start" class="st" textLength="31.8" lengthAdjust="spacing">MIN =</text>
<line x1="523.6" y1="570.4" x2="530.8" y2="570.4" stroke="#333" stroke-width="0.95"/>
<text x="532.2" y="574.2" font-size="11" text-anchor="start" class="st" textLength="23.7" lengthAdjust="spacing">0.76</text>
<text x="562.1" y="574.2" font-size="11" text-anchor="start" class="st" textLength="34.9" lengthAdjust="spacing">MAX =</text>
<text x="615.6" y="574.2" font-size="11" text-anchor="start" class="st" textLength="23.7" lengthAdjust="spacing">0.49</text>
<text x="575.2" y="612.2" font-size="10.2" text-anchor="middle" class="st">4</text>
<text x="575.2" y="624.9" font-size="10.2" text-anchor="middle" class="st">3</text>
<text x="575.2" y="637.7" font-size="10.2" text-anchor="middle" class="st">2</text>
<text x="575.2" y="650.4" font-size="10.2" text-anchor="middle" class="st" textLength="14.5" lengthAdjust="spacing">1.5</text>
<text x="575.2" y="663.2" font-size="10.2" text-anchor="middle" class="st">1</text>
<text x="575.2" y="676.0" font-size="10.2" text-anchor="middle" class="st" textLength="14.5" lengthAdjust="spacing">0.5</text>
<text x="575.2" y="688.7" font-size="10.2" text-anchor="middle" class="st" textLength="14.5" lengthAdjust="spacing">0.3</text>
<text x="575.2" y="701.5" font-size="10.2" text-anchor="middle" class="st">0</text>
<line x1="563.7" y1="710.8" x2="570.4" y2="710.8" stroke="#333" stroke-width="0.95"/>
<text x="571.3" y="714.3" font-size="10.2" text-anchor="start" class="st" textLength="15.5" lengthAdjust="spacing">0.3</text>
<line x1="563.7" y1="723.5" x2="570.4" y2="723.5" stroke="#333" stroke-width="0.95"/>
<text x="571.3" y="727.0" font-size="10.2" text-anchor="start" class="st" textLength="15.5" lengthAdjust="spacing">0.5</text>
<line x1="568.4" y1="736.3" x2="575.1" y2="736.3" stroke="#333" stroke-width="0.95"/>
<text x="582.1" y="739.8" font-size="10.2" text-anchor="end" class="st">1</text>
<line x1="563.7" y1="749.0" x2="570.4" y2="749.0" stroke="#333" stroke-width="0.95"/>
<text x="571.3" y="752.5" font-size="10.2" text-anchor="start" class="st" textLength="15.5" lengthAdjust="spacing">1.5</text>
<line x1="568.4" y1="761.8" x2="575.1" y2="761.8" stroke="#333" stroke-width="0.95"/>
<text x="582.1" y="765.3" font-size="10.2" text-anchor="end" class="st">2</text>
<line x1="568.4" y1="774.6" x2="575.1" y2="774.6" stroke="#333" stroke-width="0.95"/>
<text x="582.1" y="778.1" font-size="10.2" text-anchor="end" class="st">3</text>
<line x1="568.4" y1="787.3" x2="575.1" y2="787.3" stroke="#333" stroke-width="0.95"/>
<text x="582.1" y="790.8" font-size="10.2" text-anchor="end" class="st">4</text>
</svg>
</body></html>
